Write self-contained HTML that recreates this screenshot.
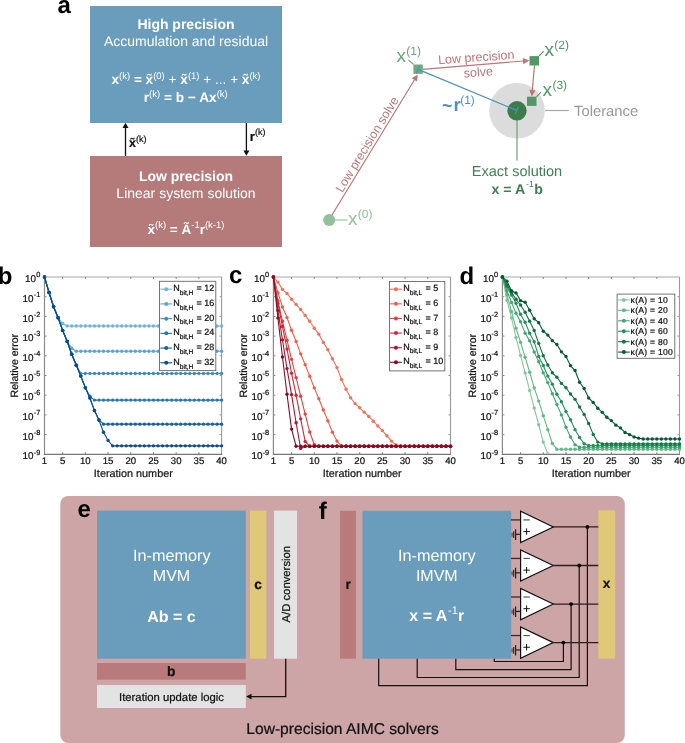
<!DOCTYPE html>
<html><head><meta charset="utf-8"><style>
html,body{margin:0;padding:0;background:#fff;}
svg{display:block;font-family:"Liberation Sans", sans-serif;will-change:transform;text-rendering:geometricPrecision;}
text[fill="#111"],text[fill="#1a1a1a"]{stroke:#111;stroke-width:0.22px;}
</style></head><body>
<svg width="685" height="743" viewBox="0 0 685 743">
<rect width="685" height="743" fill="#fff"/>
<rect x="90" y="6" width="192" height="117" fill="#6a9dbb"/>
<rect x="90" y="156" width="192" height="91" fill="#b57a7a"/>
<text x="186" y="29" font-size="14" fill="#fff" font-weight="bold" text-anchor="middle" >High precision</text>
<text x="186" y="46" font-size="14" fill="#fff" font-weight="normal" text-anchor="middle" >Accumulation and residual</text>
<text x="186" y="84" font-size="13.6" fill="#fff" font-weight="bold" text-anchor="middle">x<tspan font-size="9.5" font-weight="normal" dy="-5.5">(k)</tspan><tspan dy="5.5"> = x&#771;</tspan><tspan font-size="9.5" font-weight="normal" dy="-5.5">(0)</tspan><tspan dy="5.5"> <tspan font-weight="normal">+</tspan> x&#771;</tspan><tspan font-size="9.5" font-weight="normal" dy="-5.5">(1)</tspan><tspan dy="5.5"> <tspan font-weight="normal">+</tspan> <tspan font-weight="normal">...</tspan> <tspan font-weight="normal">+</tspan> x&#771;</tspan><tspan font-size="9.5" font-weight="normal" dy="-5.5">(k)</tspan></text>
<text x="185.7" y="102" font-size="13.7" fill="#fff" font-weight="bold" text-anchor="middle">r<tspan font-size="9.5" font-weight="normal" dy="-5.5">(k)</tspan><tspan dy="5.5"> = b &#8722; Ax</tspan><tspan font-size="9.5" font-weight="normal" dy="-5.5">(k)</tspan></text>
<text x="186" y="181" font-size="14" fill="#fff" font-weight="bold" text-anchor="middle" >Low precision</text>
<text x="186" y="198" font-size="14" fill="#fff" font-weight="normal" text-anchor="middle" >Linear system solution</text>
<text x="186" y="233.8" font-size="13.5" fill="#fff" font-weight="bold" text-anchor="middle">x&#771;<tspan font-size="9.5" font-weight="normal" dy="-5.5">(k)</tspan><tspan dy="5.5"> = A&#771;</tspan><tspan font-size="9.5" font-weight="normal" dy="-5.5">-1</tspan><tspan dy="5.5">r</tspan><tspan font-size="9.5" font-weight="normal" dy="-5.5">(k-1)</tspan></text>
<line x1="125.5" y1="156" x2="125.5" y2="127" stroke="#111" stroke-width="1.3"/>
<polygon points="122.5,128 128.5,128 125.5,122.7" fill="#111"/>
<line x1="246.4" y1="123" x2="246.4" y2="151" stroke="#111" stroke-width="1.3"/>
<polygon points="243.4,150.5 249.4,150.5 246.4,155.8" fill="#111"/>
<text x="129" y="146.5" font-size="12.5" font-weight="bold" fill="#111">x&#771;<tspan font-size="9" font-weight="normal" dy="-5">(k)</tspan></text>
<text x="249.8" y="140.5" font-size="13.2" font-weight="bold" fill="#111">r<tspan font-size="9" font-weight="normal" dy="-5.3">(k)</tspan></text>
<text x="57.5" y="13" font-size="24" fill="#000" font-weight="bold" text-anchor="start" >a</text>
<text x="-2.2" y="284" font-size="24" fill="#000" font-weight="bold" text-anchor="start" >b</text>
<text x="229" y="283" font-size="24" fill="#000" font-weight="bold" text-anchor="start" >c</text>
<text x="459.5" y="284.2" font-size="24" fill="#000" font-weight="bold" text-anchor="start" >d</text>
<circle cx="517" cy="110.7" r="27.8" fill="#dcdcdc"/>
<line x1="545" y1="110.5" x2="568.7" y2="110.5" stroke="#a8a8a8" stroke-width="1.2"/>
<text x="574" y="115.9" font-size="14.8" fill="#999" font-weight="normal" text-anchor="start" >Tolerance</text>
<line x1="517" y1="118" x2="517" y2="160.5" stroke="#5f9b6e" stroke-width="1.1"/>
<circle cx="517" cy="110.8" r="9.7" fill="#3b7b4c"/>
<text x="517" y="175.7" font-size="14.5" fill="#3f7f52" font-weight="normal" text-anchor="middle" >Exact solution</text>
<text x="517.2" y="193.7" font-size="14.2" font-weight="bold" fill="#3f7f52" text-anchor="middle">x = A<tspan font-size="8.6" font-weight="normal" dy="-6.3" dx="0.8">-1</tspan><tspan dy="6.3" dx="0.6">b</tspan></text>
<line x1="335" y1="220" x2="347.6" y2="220" stroke="#93c19d" stroke-width="1.1"/>
<circle cx="329.2" cy="220" r="6" fill="#93c19d"/>
<text x="348" y="224.8" font-size="19" fill="#93c19d">x<tspan font-size="12" dy="-7.2" dx="0.3">(0)</tspan></text>
<line x1="331.8" y1="215.2" x2="414.68" y2="79.55" stroke="#bd7577" stroke-width="1.2"/>
<polygon points="417.70,74.60 417.10,81.62 411.73,78.33" fill="#bd7577"/>
<line x1="422.8" y1="69.3" x2="523.52" y2="60.98" stroke="#bd7577" stroke-width="1.2"/>
<polygon points="529.30,60.50 523.28,64.16 522.76,57.88" fill="#bd7577"/>
<line x1="534.5" y1="65.3" x2="532.30" y2="90.62" stroke="#bd7577" stroke-width="1.2"/>
<polygon points="531.80,96.40 529.21,89.85 535.48,90.40" fill="#bd7577"/>
<line x1="418.1" y1="69.4" x2="516.8" y2="110.4" stroke="#5090bd" stroke-width="1.2"/>
<line x1="419.63" y1="65.71" x2="416.57" y2="73.09" stroke="#5090bd" stroke-width="1.2"/>
<line x1="518.33" y1="106.71" x2="515.27" y2="114.09" stroke="#5090bd" stroke-width="1.2"/>
<rect x="413.4" y="64.5" width="9.4" height="9.4" fill="#6aa679" fill-opacity="0.95"/>
<line x1="419.63" y1="65.71" x2="416.57" y2="73.09" stroke="#5090bd" stroke-width="1.2"/>
<line x1="418.1" y1="69.4" x2="423.64" y2="71.70" stroke="#5090bd" stroke-width="1.2"/>
<rect x="529.5" y="56.1" width="9.5" height="9.4" fill="#529766"/>
<rect x="527" y="96.7" width="9.5" height="9.2" fill="#529766"/>
<line x1="408.4" y1="59.9" x2="413.6" y2="64.5" stroke="#6aa679" stroke-width="1.1"/>
<line x1="539" y1="56" x2="543.8" y2="51.2" stroke="#529766" stroke-width="1.1"/>
<line x1="536.5" y1="96.8" x2="541" y2="92.1" stroke="#529766" stroke-width="1.1"/>
<text x="396.5" y="61.9" font-size="19" fill="#6aa679">x<tspan font-size="12" dy="-7.2" dx="0.3">(1)</tspan></text>
<text x="544.5" y="55.8" font-size="19" fill="#529766">x<tspan font-size="12" dy="-7.2" dx="0.3">(2)</tspan></text>
<text x="542.6" y="96.4" font-size="19" fill="#529766">x<tspan font-size="12" dy="-7.2" dx="0.3">(3)</tspan></text>
<g transform="translate(476.5,61.5) rotate(-4.2)"><text x="0" y="0" font-size="12.5" fill="#bd7577" text-anchor="middle">Low precision</text><text x="1" y="15" font-size="12.5" fill="#bd7577" text-anchor="middle">solve</text></g>
<g transform="translate(370.6,146.6) rotate(-58.6)"><text x="0" y="0" font-size="12.5" fill="#bd7577" text-anchor="middle">Low precision solve</text></g>
<text x="442" y="112.2" font-size="19.5" font-weight="bold" fill="#5090bd" textLength="10.4" lengthAdjust="spacingAndGlyphs">~</text>
<text x="453.4" y="110.6" font-size="18.6" font-weight="bold" fill="#5090bd">r</text>
<text x="460.2" y="103.8" font-size="11.9" fill="#5090bd">(1)</text>
<line x1="44.5" y1="277.0" x2="221.60" y2="277.0" stroke="#c4c4c4" stroke-width="1.5"/>
<line x1="221.60" y1="277.0" x2="221.60" y2="454.30" stroke="#999" stroke-width="1.1"/>
<line x1="44.5" y1="276.5" x2="44.5" y2="454.80" stroke="#8a8a8a" stroke-width="1.2"/>
<line x1="44.0" y1="454.30" x2="222.10" y2="454.30" stroke="#777" stroke-width="1.3"/>
<line x1="62.66" y1="454.30" x2="62.66" y2="452.30" stroke="#777" stroke-width="1"/>
<line x1="62.66" y1="277.0" x2="62.66" y2="279.0" stroke="#888" stroke-width="1"/>
<line x1="85.37" y1="454.30" x2="85.37" y2="452.30" stroke="#777" stroke-width="1"/>
<line x1="85.37" y1="277.0" x2="85.37" y2="279.0" stroke="#888" stroke-width="1"/>
<line x1="108.07" y1="454.30" x2="108.07" y2="452.30" stroke="#777" stroke-width="1"/>
<line x1="108.07" y1="277.0" x2="108.07" y2="279.0" stroke="#888" stroke-width="1"/>
<line x1="130.78" y1="454.30" x2="130.78" y2="452.30" stroke="#777" stroke-width="1"/>
<line x1="130.78" y1="277.0" x2="130.78" y2="279.0" stroke="#888" stroke-width="1"/>
<line x1="153.48" y1="454.30" x2="153.48" y2="452.30" stroke="#777" stroke-width="1"/>
<line x1="153.48" y1="277.0" x2="153.48" y2="279.0" stroke="#888" stroke-width="1"/>
<line x1="176.19" y1="454.30" x2="176.19" y2="452.30" stroke="#777" stroke-width="1"/>
<line x1="176.19" y1="277.0" x2="176.19" y2="279.0" stroke="#888" stroke-width="1"/>
<line x1="198.89" y1="454.30" x2="198.89" y2="452.30" stroke="#777" stroke-width="1"/>
<line x1="198.89" y1="277.0" x2="198.89" y2="279.0" stroke="#888" stroke-width="1"/>
<line x1="44.5" y1="296.70" x2="46.5" y2="296.70" stroke="#888" stroke-width="1"/>
<line x1="221.60" y1="296.70" x2="219.60" y2="296.70" stroke="#999" stroke-width="1"/>
<line x1="44.5" y1="316.40" x2="46.5" y2="316.40" stroke="#888" stroke-width="1"/>
<line x1="221.60" y1="316.40" x2="219.60" y2="316.40" stroke="#999" stroke-width="1"/>
<line x1="44.5" y1="336.10" x2="46.5" y2="336.10" stroke="#888" stroke-width="1"/>
<line x1="221.60" y1="336.10" x2="219.60" y2="336.10" stroke="#999" stroke-width="1"/>
<line x1="44.5" y1="355.80" x2="46.5" y2="355.80" stroke="#888" stroke-width="1"/>
<line x1="221.60" y1="355.80" x2="219.60" y2="355.80" stroke="#999" stroke-width="1"/>
<line x1="44.5" y1="375.50" x2="46.5" y2="375.50" stroke="#888" stroke-width="1"/>
<line x1="221.60" y1="375.50" x2="219.60" y2="375.50" stroke="#999" stroke-width="1"/>
<line x1="44.5" y1="395.20" x2="46.5" y2="395.20" stroke="#888" stroke-width="1"/>
<line x1="221.60" y1="395.20" x2="219.60" y2="395.20" stroke="#999" stroke-width="1"/>
<line x1="44.5" y1="414.90" x2="46.5" y2="414.90" stroke="#888" stroke-width="1"/>
<line x1="221.60" y1="414.90" x2="219.60" y2="414.90" stroke="#999" stroke-width="1"/>
<line x1="44.5" y1="434.60" x2="46.5" y2="434.60" stroke="#888" stroke-width="1"/>
<line x1="221.60" y1="434.60" x2="219.60" y2="434.60" stroke="#999" stroke-width="1"/>
<text x="44.50" y="464.4" font-size="9.6" fill="#111" font-weight="normal" text-anchor="middle" >1</text>
<text x="62.66" y="464.4" font-size="9.6" fill="#111" font-weight="normal" text-anchor="middle" >5</text>
<text x="85.37" y="464.4" font-size="9.6" fill="#111" font-weight="normal" text-anchor="middle" >10</text>
<text x="108.07" y="464.4" font-size="9.6" fill="#111" font-weight="normal" text-anchor="middle" >15</text>
<text x="130.78" y="464.4" font-size="9.6" fill="#111" font-weight="normal" text-anchor="middle" >20</text>
<text x="153.48" y="464.4" font-size="9.6" fill="#111" font-weight="normal" text-anchor="middle" >25</text>
<text x="176.19" y="464.4" font-size="9.6" fill="#111" font-weight="normal" text-anchor="middle" >30</text>
<text x="198.89" y="464.4" font-size="9.6" fill="#111" font-weight="normal" text-anchor="middle" >35</text>
<text x="221.60" y="464.4" font-size="9.6" fill="#111" font-weight="normal" text-anchor="middle" >40</text>
<text x="40.30" y="282.10" font-size="9.9" fill="#111" text-anchor="end">10<tspan font-size="7.4" dy="-4.9" dx="0.2">0</tspan></text>
<text x="40.30" y="301.80" font-size="9.9" fill="#111" text-anchor="end">10<tspan font-size="7.4" dy="-4.9" dx="0.2">-1</tspan></text>
<text x="40.30" y="321.50" font-size="9.9" fill="#111" text-anchor="end">10<tspan font-size="7.4" dy="-4.9" dx="0.2">-2</tspan></text>
<text x="40.30" y="341.20" font-size="9.9" fill="#111" text-anchor="end">10<tspan font-size="7.4" dy="-4.9" dx="0.2">-3</tspan></text>
<text x="40.30" y="360.90" font-size="9.9" fill="#111" text-anchor="end">10<tspan font-size="7.4" dy="-4.9" dx="0.2">-4</tspan></text>
<text x="40.30" y="380.60" font-size="9.9" fill="#111" text-anchor="end">10<tspan font-size="7.4" dy="-4.9" dx="0.2">-5</tspan></text>
<text x="40.30" y="400.30" font-size="9.9" fill="#111" text-anchor="end">10<tspan font-size="7.4" dy="-4.9" dx="0.2">-6</tspan></text>
<text x="40.30" y="420.00" font-size="9.9" fill="#111" text-anchor="end">10<tspan font-size="7.4" dy="-4.9" dx="0.2">-7</tspan></text>
<text x="40.30" y="439.70" font-size="9.9" fill="#111" text-anchor="end">10<tspan font-size="7.4" dy="-4.9" dx="0.2">-8</tspan></text>
<text x="40.30" y="459.40" font-size="9.9" fill="#111" text-anchor="end">10<tspan font-size="7.4" dy="-4.9" dx="0.2">-9</tspan></text>
<text x="133.35" y="477.3" font-size="10.85" fill="#1a1a1a" font-weight="normal" text-anchor="middle" >Iteration number</text>
<text x="0" y="0" font-size="10.6" fill="#111" text-anchor="middle" transform="translate(18.10,365.7) rotate(-90)">Relative error</text>
<clipPath id="clip44"><rect x="41.5" y="274.0" width="183.10" height="179.50"/></clipPath>
<g clip-path="url(#clip44)">
<polyline points="44.50,277.00 49.04,292.56 53.58,306.75 58.12,317.78 62.66,323.49 67.20,326.05 71.75,326.05 76.29,326.05 80.83,326.05 85.37,326.05 89.91,326.05 94.45,326.05 98.99,326.05 103.53,326.05 108.07,326.05 112.62,326.05 117.16,326.05 121.70,326.05 126.24,326.05 130.78,326.05 135.32,326.05 139.86,326.05 144.40,326.05 148.94,326.05 153.48,326.05 158.03,326.05 162.57,326.05 167.11,326.05 171.65,326.05 176.19,326.05 180.73,326.05 185.27,326.05 189.81,326.05 194.35,326.05 198.89,326.05 203.44,326.05 207.98,326.05 212.52,326.05 217.06,326.05 221.60,326.05" fill="none" stroke="#6db3dc" stroke-width="1.1" stroke-linejoin="round"/>
<circle cx="44.50" cy="277.00" r="1.7" fill="#6db3dc"/>
<circle cx="49.04" cy="292.56" r="1.7" fill="#6db3dc"/>
<circle cx="53.58" cy="306.75" r="1.7" fill="#6db3dc"/>
<circle cx="58.12" cy="317.78" r="1.7" fill="#6db3dc"/>
<circle cx="62.66" cy="323.49" r="1.7" fill="#6db3dc"/>
<circle cx="67.20" cy="326.05" r="1.7" fill="#6db3dc"/>
<circle cx="71.75" cy="326.05" r="1.7" fill="#6db3dc"/>
<circle cx="76.29" cy="326.05" r="1.7" fill="#6db3dc"/>
<circle cx="80.83" cy="326.05" r="1.7" fill="#6db3dc"/>
<circle cx="85.37" cy="326.05" r="1.7" fill="#6db3dc"/>
<circle cx="89.91" cy="326.05" r="1.7" fill="#6db3dc"/>
<circle cx="94.45" cy="326.05" r="1.7" fill="#6db3dc"/>
<circle cx="98.99" cy="326.05" r="1.7" fill="#6db3dc"/>
<circle cx="103.53" cy="326.05" r="1.7" fill="#6db3dc"/>
<circle cx="108.07" cy="326.05" r="1.7" fill="#6db3dc"/>
<circle cx="112.62" cy="326.05" r="1.7" fill="#6db3dc"/>
<circle cx="117.16" cy="326.05" r="1.7" fill="#6db3dc"/>
<circle cx="121.70" cy="326.05" r="1.7" fill="#6db3dc"/>
<circle cx="126.24" cy="326.05" r="1.7" fill="#6db3dc"/>
<circle cx="130.78" cy="326.05" r="1.7" fill="#6db3dc"/>
<circle cx="135.32" cy="326.05" r="1.7" fill="#6db3dc"/>
<circle cx="139.86" cy="326.05" r="1.7" fill="#6db3dc"/>
<circle cx="144.40" cy="326.05" r="1.7" fill="#6db3dc"/>
<circle cx="148.94" cy="326.05" r="1.7" fill="#6db3dc"/>
<circle cx="153.48" cy="326.05" r="1.7" fill="#6db3dc"/>
<circle cx="158.03" cy="326.05" r="1.7" fill="#6db3dc"/>
<circle cx="162.57" cy="326.05" r="1.7" fill="#6db3dc"/>
<circle cx="167.11" cy="326.05" r="1.7" fill="#6db3dc"/>
<circle cx="171.65" cy="326.05" r="1.7" fill="#6db3dc"/>
<circle cx="176.19" cy="326.05" r="1.7" fill="#6db3dc"/>
<circle cx="180.73" cy="326.05" r="1.7" fill="#6db3dc"/>
<circle cx="185.27" cy="326.05" r="1.7" fill="#6db3dc"/>
<circle cx="189.81" cy="326.05" r="1.7" fill="#6db3dc"/>
<circle cx="194.35" cy="326.05" r="1.7" fill="#6db3dc"/>
<circle cx="198.89" cy="326.05" r="1.7" fill="#6db3dc"/>
<circle cx="203.44" cy="326.05" r="1.7" fill="#6db3dc"/>
<circle cx="207.98" cy="326.05" r="1.7" fill="#6db3dc"/>
<circle cx="212.52" cy="326.05" r="1.7" fill="#6db3dc"/>
<circle cx="217.06" cy="326.05" r="1.7" fill="#6db3dc"/>
<circle cx="221.60" cy="326.05" r="1.7" fill="#6db3dc"/>
<polyline points="44.50,277.00 49.04,292.56 53.58,306.75 58.12,317.78 62.66,330.39 67.20,341.42 71.75,348.31 76.29,351.27 80.83,351.27 85.37,351.27 89.91,351.27 94.45,351.27 98.99,351.27 103.53,351.27 108.07,351.27 112.62,351.27 117.16,351.27 121.70,351.27 126.24,351.27 130.78,351.27 135.32,351.27 139.86,351.27 144.40,351.27 148.94,351.27 153.48,351.27 158.03,351.27 162.57,351.27 167.11,351.27 171.65,351.27 176.19,351.27 180.73,351.27 185.27,351.27 189.81,351.27 194.35,351.27 198.89,351.27 203.44,351.27 207.98,351.27 212.52,351.27 217.06,351.27 221.60,351.27" fill="none" stroke="#58a6d8" stroke-width="1.1" stroke-linejoin="round"/>
<circle cx="44.50" cy="277.00" r="1.7" fill="#58a6d8"/>
<circle cx="49.04" cy="292.56" r="1.7" fill="#58a6d8"/>
<circle cx="53.58" cy="306.75" r="1.7" fill="#58a6d8"/>
<circle cx="58.12" cy="317.78" r="1.7" fill="#58a6d8"/>
<circle cx="62.66" cy="330.39" r="1.7" fill="#58a6d8"/>
<circle cx="67.20" cy="341.42" r="1.7" fill="#58a6d8"/>
<circle cx="71.75" cy="348.31" r="1.7" fill="#58a6d8"/>
<circle cx="76.29" cy="351.27" r="1.7" fill="#58a6d8"/>
<circle cx="80.83" cy="351.27" r="1.7" fill="#58a6d8"/>
<circle cx="85.37" cy="351.27" r="1.7" fill="#58a6d8"/>
<circle cx="89.91" cy="351.27" r="1.7" fill="#58a6d8"/>
<circle cx="94.45" cy="351.27" r="1.7" fill="#58a6d8"/>
<circle cx="98.99" cy="351.27" r="1.7" fill="#58a6d8"/>
<circle cx="103.53" cy="351.27" r="1.7" fill="#58a6d8"/>
<circle cx="108.07" cy="351.27" r="1.7" fill="#58a6d8"/>
<circle cx="112.62" cy="351.27" r="1.7" fill="#58a6d8"/>
<circle cx="117.16" cy="351.27" r="1.7" fill="#58a6d8"/>
<circle cx="121.70" cy="351.27" r="1.7" fill="#58a6d8"/>
<circle cx="126.24" cy="351.27" r="1.7" fill="#58a6d8"/>
<circle cx="130.78" cy="351.27" r="1.7" fill="#58a6d8"/>
<circle cx="135.32" cy="351.27" r="1.7" fill="#58a6d8"/>
<circle cx="139.86" cy="351.27" r="1.7" fill="#58a6d8"/>
<circle cx="144.40" cy="351.27" r="1.7" fill="#58a6d8"/>
<circle cx="148.94" cy="351.27" r="1.7" fill="#58a6d8"/>
<circle cx="153.48" cy="351.27" r="1.7" fill="#58a6d8"/>
<circle cx="158.03" cy="351.27" r="1.7" fill="#58a6d8"/>
<circle cx="162.57" cy="351.27" r="1.7" fill="#58a6d8"/>
<circle cx="167.11" cy="351.27" r="1.7" fill="#58a6d8"/>
<circle cx="171.65" cy="351.27" r="1.7" fill="#58a6d8"/>
<circle cx="176.19" cy="351.27" r="1.7" fill="#58a6d8"/>
<circle cx="180.73" cy="351.27" r="1.7" fill="#58a6d8"/>
<circle cx="185.27" cy="351.27" r="1.7" fill="#58a6d8"/>
<circle cx="189.81" cy="351.27" r="1.7" fill="#58a6d8"/>
<circle cx="194.35" cy="351.27" r="1.7" fill="#58a6d8"/>
<circle cx="198.89" cy="351.27" r="1.7" fill="#58a6d8"/>
<circle cx="203.44" cy="351.27" r="1.7" fill="#58a6d8"/>
<circle cx="207.98" cy="351.27" r="1.7" fill="#58a6d8"/>
<circle cx="212.52" cy="351.27" r="1.7" fill="#58a6d8"/>
<circle cx="217.06" cy="351.27" r="1.7" fill="#58a6d8"/>
<circle cx="221.60" cy="351.27" r="1.7" fill="#58a6d8"/>
<polyline points="44.50,277.00 49.04,292.56 53.58,306.75 58.12,317.78 62.66,330.39 67.20,341.42 71.75,354.22 76.29,365.26 80.83,373.53 85.37,373.53 89.91,373.53 94.45,373.53 98.99,373.53 103.53,373.53 108.07,373.53 112.62,373.53 117.16,373.53 121.70,373.53 126.24,373.53 130.78,373.53 135.32,373.53 139.86,373.53 144.40,373.53 148.94,373.53 153.48,373.53 158.03,373.53 162.57,373.53 167.11,373.53 171.65,373.53 176.19,373.53 180.73,373.53 185.27,373.53 189.81,373.53 194.35,373.53 198.89,373.53 203.44,373.53 207.98,373.53 212.52,373.53 217.06,373.53 221.60,373.53" fill="none" stroke="#3a8dc9" stroke-width="1.1" stroke-linejoin="round"/>
<circle cx="44.50" cy="277.00" r="1.7" fill="#3a8dc9"/>
<circle cx="49.04" cy="292.56" r="1.7" fill="#3a8dc9"/>
<circle cx="53.58" cy="306.75" r="1.7" fill="#3a8dc9"/>
<circle cx="58.12" cy="317.78" r="1.7" fill="#3a8dc9"/>
<circle cx="62.66" cy="330.39" r="1.7" fill="#3a8dc9"/>
<circle cx="67.20" cy="341.42" r="1.7" fill="#3a8dc9"/>
<circle cx="71.75" cy="354.22" r="1.7" fill="#3a8dc9"/>
<circle cx="76.29" cy="365.26" r="1.7" fill="#3a8dc9"/>
<circle cx="80.83" cy="373.53" r="1.7" fill="#3a8dc9"/>
<circle cx="85.37" cy="373.53" r="1.7" fill="#3a8dc9"/>
<circle cx="89.91" cy="373.53" r="1.7" fill="#3a8dc9"/>
<circle cx="94.45" cy="373.53" r="1.7" fill="#3a8dc9"/>
<circle cx="98.99" cy="373.53" r="1.7" fill="#3a8dc9"/>
<circle cx="103.53" cy="373.53" r="1.7" fill="#3a8dc9"/>
<circle cx="108.07" cy="373.53" r="1.7" fill="#3a8dc9"/>
<circle cx="112.62" cy="373.53" r="1.7" fill="#3a8dc9"/>
<circle cx="117.16" cy="373.53" r="1.7" fill="#3a8dc9"/>
<circle cx="121.70" cy="373.53" r="1.7" fill="#3a8dc9"/>
<circle cx="126.24" cy="373.53" r="1.7" fill="#3a8dc9"/>
<circle cx="130.78" cy="373.53" r="1.7" fill="#3a8dc9"/>
<circle cx="135.32" cy="373.53" r="1.7" fill="#3a8dc9"/>
<circle cx="139.86" cy="373.53" r="1.7" fill="#3a8dc9"/>
<circle cx="144.40" cy="373.53" r="1.7" fill="#3a8dc9"/>
<circle cx="148.94" cy="373.53" r="1.7" fill="#3a8dc9"/>
<circle cx="153.48" cy="373.53" r="1.7" fill="#3a8dc9"/>
<circle cx="158.03" cy="373.53" r="1.7" fill="#3a8dc9"/>
<circle cx="162.57" cy="373.53" r="1.7" fill="#3a8dc9"/>
<circle cx="167.11" cy="373.53" r="1.7" fill="#3a8dc9"/>
<circle cx="171.65" cy="373.53" r="1.7" fill="#3a8dc9"/>
<circle cx="176.19" cy="373.53" r="1.7" fill="#3a8dc9"/>
<circle cx="180.73" cy="373.53" r="1.7" fill="#3a8dc9"/>
<circle cx="185.27" cy="373.53" r="1.7" fill="#3a8dc9"/>
<circle cx="189.81" cy="373.53" r="1.7" fill="#3a8dc9"/>
<circle cx="194.35" cy="373.53" r="1.7" fill="#3a8dc9"/>
<circle cx="198.89" cy="373.53" r="1.7" fill="#3a8dc9"/>
<circle cx="203.44" cy="373.53" r="1.7" fill="#3a8dc9"/>
<circle cx="207.98" cy="373.53" r="1.7" fill="#3a8dc9"/>
<circle cx="212.52" cy="373.53" r="1.7" fill="#3a8dc9"/>
<circle cx="217.06" cy="373.53" r="1.7" fill="#3a8dc9"/>
<circle cx="221.60" cy="373.53" r="1.7" fill="#3a8dc9"/>
<polyline points="44.50,277.00 49.04,292.56 53.58,306.75 58.12,317.78 62.66,330.39 67.20,341.42 71.75,354.22 76.29,365.26 80.83,376.09 85.37,387.71 89.91,396.19 94.45,400.12 98.99,400.12 103.53,400.12 108.07,400.12 112.62,400.12 117.16,400.12 121.70,400.12 126.24,400.12 130.78,400.12 135.32,400.12 139.86,400.12 144.40,400.12 148.94,400.12 153.48,400.12 158.03,400.12 162.57,400.12 167.11,400.12 171.65,400.12 176.19,400.12 180.73,400.12 185.27,400.12 189.81,400.12 194.35,400.12 198.89,400.12 203.44,400.12 207.98,400.12 212.52,400.12 217.06,400.12 221.60,400.12" fill="none" stroke="#2476b8" stroke-width="1.1" stroke-linejoin="round"/>
<circle cx="44.50" cy="277.00" r="1.7" fill="#2476b8"/>
<circle cx="49.04" cy="292.56" r="1.7" fill="#2476b8"/>
<circle cx="53.58" cy="306.75" r="1.7" fill="#2476b8"/>
<circle cx="58.12" cy="317.78" r="1.7" fill="#2476b8"/>
<circle cx="62.66" cy="330.39" r="1.7" fill="#2476b8"/>
<circle cx="67.20" cy="341.42" r="1.7" fill="#2476b8"/>
<circle cx="71.75" cy="354.22" r="1.7" fill="#2476b8"/>
<circle cx="76.29" cy="365.26" r="1.7" fill="#2476b8"/>
<circle cx="80.83" cy="376.09" r="1.7" fill="#2476b8"/>
<circle cx="85.37" cy="387.71" r="1.7" fill="#2476b8"/>
<circle cx="89.91" cy="396.19" r="1.7" fill="#2476b8"/>
<circle cx="94.45" cy="400.12" r="1.7" fill="#2476b8"/>
<circle cx="98.99" cy="400.12" r="1.7" fill="#2476b8"/>
<circle cx="103.53" cy="400.12" r="1.7" fill="#2476b8"/>
<circle cx="108.07" cy="400.12" r="1.7" fill="#2476b8"/>
<circle cx="112.62" cy="400.12" r="1.7" fill="#2476b8"/>
<circle cx="117.16" cy="400.12" r="1.7" fill="#2476b8"/>
<circle cx="121.70" cy="400.12" r="1.7" fill="#2476b8"/>
<circle cx="126.24" cy="400.12" r="1.7" fill="#2476b8"/>
<circle cx="130.78" cy="400.12" r="1.7" fill="#2476b8"/>
<circle cx="135.32" cy="400.12" r="1.7" fill="#2476b8"/>
<circle cx="139.86" cy="400.12" r="1.7" fill="#2476b8"/>
<circle cx="144.40" cy="400.12" r="1.7" fill="#2476b8"/>
<circle cx="148.94" cy="400.12" r="1.7" fill="#2476b8"/>
<circle cx="153.48" cy="400.12" r="1.7" fill="#2476b8"/>
<circle cx="158.03" cy="400.12" r="1.7" fill="#2476b8"/>
<circle cx="162.57" cy="400.12" r="1.7" fill="#2476b8"/>
<circle cx="167.11" cy="400.12" r="1.7" fill="#2476b8"/>
<circle cx="171.65" cy="400.12" r="1.7" fill="#2476b8"/>
<circle cx="176.19" cy="400.12" r="1.7" fill="#2476b8"/>
<circle cx="180.73" cy="400.12" r="1.7" fill="#2476b8"/>
<circle cx="185.27" cy="400.12" r="1.7" fill="#2476b8"/>
<circle cx="189.81" cy="400.12" r="1.7" fill="#2476b8"/>
<circle cx="194.35" cy="400.12" r="1.7" fill="#2476b8"/>
<circle cx="198.89" cy="400.12" r="1.7" fill="#2476b8"/>
<circle cx="203.44" cy="400.12" r="1.7" fill="#2476b8"/>
<circle cx="207.98" cy="400.12" r="1.7" fill="#2476b8"/>
<circle cx="212.52" cy="400.12" r="1.7" fill="#2476b8"/>
<circle cx="217.06" cy="400.12" r="1.7" fill="#2476b8"/>
<circle cx="221.60" cy="400.12" r="1.7" fill="#2476b8"/>
<polyline points="44.50,277.00 49.04,292.56 53.58,306.75 58.12,317.78 62.66,330.39 67.20,341.42 71.75,354.22 76.29,365.26 80.83,376.09 85.37,387.71 89.91,397.96 94.45,410.57 98.99,419.82 103.53,424.16 108.07,424.16 112.62,424.16 117.16,424.16 121.70,424.16 126.24,424.16 130.78,424.16 135.32,424.16 139.86,424.16 144.40,424.16 148.94,424.16 153.48,424.16 158.03,424.16 162.57,424.16 167.11,424.16 171.65,424.16 176.19,424.16 180.73,424.16 185.27,424.16 189.81,424.16 194.35,424.16 198.89,424.16 203.44,424.16 207.98,424.16 212.52,424.16 217.06,424.16 221.60,424.16" fill="none" stroke="#1461a8" stroke-width="1.1" stroke-linejoin="round"/>
<circle cx="44.50" cy="277.00" r="1.7" fill="#1461a8"/>
<circle cx="49.04" cy="292.56" r="1.7" fill="#1461a8"/>
<circle cx="53.58" cy="306.75" r="1.7" fill="#1461a8"/>
<circle cx="58.12" cy="317.78" r="1.7" fill="#1461a8"/>
<circle cx="62.66" cy="330.39" r="1.7" fill="#1461a8"/>
<circle cx="67.20" cy="341.42" r="1.7" fill="#1461a8"/>
<circle cx="71.75" cy="354.22" r="1.7" fill="#1461a8"/>
<circle cx="76.29" cy="365.26" r="1.7" fill="#1461a8"/>
<circle cx="80.83" cy="376.09" r="1.7" fill="#1461a8"/>
<circle cx="85.37" cy="387.71" r="1.7" fill="#1461a8"/>
<circle cx="89.91" cy="397.96" r="1.7" fill="#1461a8"/>
<circle cx="94.45" cy="410.57" r="1.7" fill="#1461a8"/>
<circle cx="98.99" cy="419.82" r="1.7" fill="#1461a8"/>
<circle cx="103.53" cy="424.16" r="1.7" fill="#1461a8"/>
<circle cx="108.07" cy="424.16" r="1.7" fill="#1461a8"/>
<circle cx="112.62" cy="424.16" r="1.7" fill="#1461a8"/>
<circle cx="117.16" cy="424.16" r="1.7" fill="#1461a8"/>
<circle cx="121.70" cy="424.16" r="1.7" fill="#1461a8"/>
<circle cx="126.24" cy="424.16" r="1.7" fill="#1461a8"/>
<circle cx="130.78" cy="424.16" r="1.7" fill="#1461a8"/>
<circle cx="135.32" cy="424.16" r="1.7" fill="#1461a8"/>
<circle cx="139.86" cy="424.16" r="1.7" fill="#1461a8"/>
<circle cx="144.40" cy="424.16" r="1.7" fill="#1461a8"/>
<circle cx="148.94" cy="424.16" r="1.7" fill="#1461a8"/>
<circle cx="153.48" cy="424.16" r="1.7" fill="#1461a8"/>
<circle cx="158.03" cy="424.16" r="1.7" fill="#1461a8"/>
<circle cx="162.57" cy="424.16" r="1.7" fill="#1461a8"/>
<circle cx="167.11" cy="424.16" r="1.7" fill="#1461a8"/>
<circle cx="171.65" cy="424.16" r="1.7" fill="#1461a8"/>
<circle cx="176.19" cy="424.16" r="1.7" fill="#1461a8"/>
<circle cx="180.73" cy="424.16" r="1.7" fill="#1461a8"/>
<circle cx="185.27" cy="424.16" r="1.7" fill="#1461a8"/>
<circle cx="189.81" cy="424.16" r="1.7" fill="#1461a8"/>
<circle cx="194.35" cy="424.16" r="1.7" fill="#1461a8"/>
<circle cx="198.89" cy="424.16" r="1.7" fill="#1461a8"/>
<circle cx="203.44" cy="424.16" r="1.7" fill="#1461a8"/>
<circle cx="207.98" cy="424.16" r="1.7" fill="#1461a8"/>
<circle cx="212.52" cy="424.16" r="1.7" fill="#1461a8"/>
<circle cx="217.06" cy="424.16" r="1.7" fill="#1461a8"/>
<circle cx="221.60" cy="424.16" r="1.7" fill="#1461a8"/>
<polyline points="44.50,277.00 49.04,292.56 53.58,306.75 58.12,317.78 62.66,330.39 67.20,341.42 71.75,354.22 76.29,365.26 80.83,376.09 85.37,387.71 89.91,397.96 94.45,410.57 98.99,420.22 103.53,432.24 108.07,440.51 112.62,445.83 117.16,445.83 121.70,445.83 126.24,445.83 130.78,445.83 135.32,445.83 139.86,445.83 144.40,445.83 148.94,445.83 153.48,445.83 158.03,445.83 162.57,445.83 167.11,445.83 171.65,445.83 176.19,445.83 180.73,445.83 185.27,445.83 189.81,445.83 194.35,445.83 198.89,445.83 203.44,445.83 207.98,445.83 212.52,445.83 217.06,445.83 221.60,445.83" fill="none" stroke="#0d4b8e" stroke-width="1.1" stroke-linejoin="round"/>
<circle cx="44.50" cy="277.00" r="1.7" fill="#0d4b8e"/>
<circle cx="49.04" cy="292.56" r="1.7" fill="#0d4b8e"/>
<circle cx="53.58" cy="306.75" r="1.7" fill="#0d4b8e"/>
<circle cx="58.12" cy="317.78" r="1.7" fill="#0d4b8e"/>
<circle cx="62.66" cy="330.39" r="1.7" fill="#0d4b8e"/>
<circle cx="67.20" cy="341.42" r="1.7" fill="#0d4b8e"/>
<circle cx="71.75" cy="354.22" r="1.7" fill="#0d4b8e"/>
<circle cx="76.29" cy="365.26" r="1.7" fill="#0d4b8e"/>
<circle cx="80.83" cy="376.09" r="1.7" fill="#0d4b8e"/>
<circle cx="85.37" cy="387.71" r="1.7" fill="#0d4b8e"/>
<circle cx="89.91" cy="397.96" r="1.7" fill="#0d4b8e"/>
<circle cx="94.45" cy="410.57" r="1.7" fill="#0d4b8e"/>
<circle cx="98.99" cy="420.22" r="1.7" fill="#0d4b8e"/>
<circle cx="103.53" cy="432.24" r="1.7" fill="#0d4b8e"/>
<circle cx="108.07" cy="440.51" r="1.7" fill="#0d4b8e"/>
<circle cx="112.62" cy="445.83" r="1.7" fill="#0d4b8e"/>
<circle cx="117.16" cy="445.83" r="1.7" fill="#0d4b8e"/>
<circle cx="121.70" cy="445.83" r="1.7" fill="#0d4b8e"/>
<circle cx="126.24" cy="445.83" r="1.7" fill="#0d4b8e"/>
<circle cx="130.78" cy="445.83" r="1.7" fill="#0d4b8e"/>
<circle cx="135.32" cy="445.83" r="1.7" fill="#0d4b8e"/>
<circle cx="139.86" cy="445.83" r="1.7" fill="#0d4b8e"/>
<circle cx="144.40" cy="445.83" r="1.7" fill="#0d4b8e"/>
<circle cx="148.94" cy="445.83" r="1.7" fill="#0d4b8e"/>
<circle cx="153.48" cy="445.83" r="1.7" fill="#0d4b8e"/>
<circle cx="158.03" cy="445.83" r="1.7" fill="#0d4b8e"/>
<circle cx="162.57" cy="445.83" r="1.7" fill="#0d4b8e"/>
<circle cx="167.11" cy="445.83" r="1.7" fill="#0d4b8e"/>
<circle cx="171.65" cy="445.83" r="1.7" fill="#0d4b8e"/>
<circle cx="176.19" cy="445.83" r="1.7" fill="#0d4b8e"/>
<circle cx="180.73" cy="445.83" r="1.7" fill="#0d4b8e"/>
<circle cx="185.27" cy="445.83" r="1.7" fill="#0d4b8e"/>
<circle cx="189.81" cy="445.83" r="1.7" fill="#0d4b8e"/>
<circle cx="194.35" cy="445.83" r="1.7" fill="#0d4b8e"/>
<circle cx="198.89" cy="445.83" r="1.7" fill="#0d4b8e"/>
<circle cx="203.44" cy="445.83" r="1.7" fill="#0d4b8e"/>
<circle cx="207.98" cy="445.83" r="1.7" fill="#0d4b8e"/>
<circle cx="212.52" cy="445.83" r="1.7" fill="#0d4b8e"/>
<circle cx="217.06" cy="445.83" r="1.7" fill="#0d4b8e"/>
<circle cx="221.60" cy="445.83" r="1.7" fill="#0d4b8e"/>
</g>
<rect x="159.5" y="281.3" width="56.3" height="89.3" fill="#fff" stroke="#666" stroke-width="0.9"/>
<line x1="160.4" y1="289.20" x2="172.1" y2="289.20" stroke="#6db3dc" stroke-width="1.1"/>
<circle cx="166.25" cy="289.20" r="2.0" fill="#6db3dc"/>
<text x="173.2" y="291.30" font-size="9" fill="#111">N<tspan font-size="6.7" dy="3.6">bit,H</tspan><tspan dy="-3.6" dx="0.6"> = 12</tspan></text>
<line x1="160.4" y1="303.92" x2="172.1" y2="303.92" stroke="#58a6d8" stroke-width="1.1"/>
<circle cx="166.25" cy="303.92" r="2.0" fill="#58a6d8"/>
<text x="173.2" y="306.02" font-size="9" fill="#111">N<tspan font-size="6.7" dy="3.6">bit,H</tspan><tspan dy="-3.6" dx="0.6"> = 16</tspan></text>
<line x1="160.4" y1="318.64" x2="172.1" y2="318.64" stroke="#3a8dc9" stroke-width="1.1"/>
<circle cx="166.25" cy="318.64" r="2.0" fill="#3a8dc9"/>
<text x="173.2" y="320.74" font-size="9" fill="#111">N<tspan font-size="6.7" dy="3.6">bit,H</tspan><tspan dy="-3.6" dx="0.6"> = 20</tspan></text>
<line x1="160.4" y1="333.36" x2="172.1" y2="333.36" stroke="#2476b8" stroke-width="1.1"/>
<circle cx="166.25" cy="333.36" r="2.0" fill="#2476b8"/>
<text x="173.2" y="335.46" font-size="9" fill="#111">N<tspan font-size="6.7" dy="3.6">bit,H</tspan><tspan dy="-3.6" dx="0.6"> = 24</tspan></text>
<line x1="160.4" y1="348.08" x2="172.1" y2="348.08" stroke="#1461a8" stroke-width="1.1"/>
<circle cx="166.25" cy="348.08" r="2.0" fill="#1461a8"/>
<text x="173.2" y="350.18" font-size="9" fill="#111">N<tspan font-size="6.7" dy="3.6">bit,H</tspan><tspan dy="-3.6" dx="0.6"> = 28</tspan></text>
<line x1="160.4" y1="362.80" x2="172.1" y2="362.80" stroke="#0d4b8e" stroke-width="1.1"/>
<circle cx="166.25" cy="362.80" r="2.0" fill="#0d4b8e"/>
<text x="173.2" y="364.90" font-size="9" fill="#111">N<tspan font-size="6.7" dy="3.6">bit,H</tspan><tspan dy="-3.6" dx="0.6"> = 32</tspan></text>
<line x1="273.4" y1="277.0" x2="450.50" y2="277.0" stroke="#c4c4c4" stroke-width="1.5"/>
<line x1="450.50" y1="277.0" x2="450.50" y2="454.30" stroke="#999" stroke-width="1.1"/>
<line x1="273.4" y1="276.5" x2="273.4" y2="454.80" stroke="#8a8a8a" stroke-width="1.2"/>
<line x1="272.9" y1="454.30" x2="451.00" y2="454.30" stroke="#777" stroke-width="1.3"/>
<line x1="291.56" y1="454.30" x2="291.56" y2="452.30" stroke="#777" stroke-width="1"/>
<line x1="291.56" y1="277.0" x2="291.56" y2="279.0" stroke="#888" stroke-width="1"/>
<line x1="314.27" y1="454.30" x2="314.27" y2="452.30" stroke="#777" stroke-width="1"/>
<line x1="314.27" y1="277.0" x2="314.27" y2="279.0" stroke="#888" stroke-width="1"/>
<line x1="336.97" y1="454.30" x2="336.97" y2="452.30" stroke="#777" stroke-width="1"/>
<line x1="336.97" y1="277.0" x2="336.97" y2="279.0" stroke="#888" stroke-width="1"/>
<line x1="359.68" y1="454.30" x2="359.68" y2="452.30" stroke="#777" stroke-width="1"/>
<line x1="359.68" y1="277.0" x2="359.68" y2="279.0" stroke="#888" stroke-width="1"/>
<line x1="382.38" y1="454.30" x2="382.38" y2="452.30" stroke="#777" stroke-width="1"/>
<line x1="382.38" y1="277.0" x2="382.38" y2="279.0" stroke="#888" stroke-width="1"/>
<line x1="405.09" y1="454.30" x2="405.09" y2="452.30" stroke="#777" stroke-width="1"/>
<line x1="405.09" y1="277.0" x2="405.09" y2="279.0" stroke="#888" stroke-width="1"/>
<line x1="427.79" y1="454.30" x2="427.79" y2="452.30" stroke="#777" stroke-width="1"/>
<line x1="427.79" y1="277.0" x2="427.79" y2="279.0" stroke="#888" stroke-width="1"/>
<line x1="273.4" y1="296.70" x2="275.4" y2="296.70" stroke="#888" stroke-width="1"/>
<line x1="450.50" y1="296.70" x2="448.50" y2="296.70" stroke="#999" stroke-width="1"/>
<line x1="273.4" y1="316.40" x2="275.4" y2="316.40" stroke="#888" stroke-width="1"/>
<line x1="450.50" y1="316.40" x2="448.50" y2="316.40" stroke="#999" stroke-width="1"/>
<line x1="273.4" y1="336.10" x2="275.4" y2="336.10" stroke="#888" stroke-width="1"/>
<line x1="450.50" y1="336.10" x2="448.50" y2="336.10" stroke="#999" stroke-width="1"/>
<line x1="273.4" y1="355.80" x2="275.4" y2="355.80" stroke="#888" stroke-width="1"/>
<line x1="450.50" y1="355.80" x2="448.50" y2="355.80" stroke="#999" stroke-width="1"/>
<line x1="273.4" y1="375.50" x2="275.4" y2="375.50" stroke="#888" stroke-width="1"/>
<line x1="450.50" y1="375.50" x2="448.50" y2="375.50" stroke="#999" stroke-width="1"/>
<line x1="273.4" y1="395.20" x2="275.4" y2="395.20" stroke="#888" stroke-width="1"/>
<line x1="450.50" y1="395.20" x2="448.50" y2="395.20" stroke="#999" stroke-width="1"/>
<line x1="273.4" y1="414.90" x2="275.4" y2="414.90" stroke="#888" stroke-width="1"/>
<line x1="450.50" y1="414.90" x2="448.50" y2="414.90" stroke="#999" stroke-width="1"/>
<line x1="273.4" y1="434.60" x2="275.4" y2="434.60" stroke="#888" stroke-width="1"/>
<line x1="450.50" y1="434.60" x2="448.50" y2="434.60" stroke="#999" stroke-width="1"/>
<text x="273.40" y="464.4" font-size="9.6" fill="#111" font-weight="normal" text-anchor="middle" >1</text>
<text x="291.56" y="464.4" font-size="9.6" fill="#111" font-weight="normal" text-anchor="middle" >5</text>
<text x="314.27" y="464.4" font-size="9.6" fill="#111" font-weight="normal" text-anchor="middle" >10</text>
<text x="336.97" y="464.4" font-size="9.6" fill="#111" font-weight="normal" text-anchor="middle" >15</text>
<text x="359.68" y="464.4" font-size="9.6" fill="#111" font-weight="normal" text-anchor="middle" >20</text>
<text x="382.38" y="464.4" font-size="9.6" fill="#111" font-weight="normal" text-anchor="middle" >25</text>
<text x="405.09" y="464.4" font-size="9.6" fill="#111" font-weight="normal" text-anchor="middle" >30</text>
<text x="427.79" y="464.4" font-size="9.6" fill="#111" font-weight="normal" text-anchor="middle" >35</text>
<text x="450.50" y="464.4" font-size="9.6" fill="#111" font-weight="normal" text-anchor="middle" >40</text>
<text x="269.20" y="282.10" font-size="9.9" fill="#111" text-anchor="end">10<tspan font-size="7.4" dy="-4.9" dx="0.2">0</tspan></text>
<text x="269.20" y="301.80" font-size="9.9" fill="#111" text-anchor="end">10<tspan font-size="7.4" dy="-4.9" dx="0.2">-1</tspan></text>
<text x="269.20" y="321.50" font-size="9.9" fill="#111" text-anchor="end">10<tspan font-size="7.4" dy="-4.9" dx="0.2">-2</tspan></text>
<text x="269.20" y="341.20" font-size="9.9" fill="#111" text-anchor="end">10<tspan font-size="7.4" dy="-4.9" dx="0.2">-3</tspan></text>
<text x="269.20" y="360.90" font-size="9.9" fill="#111" text-anchor="end">10<tspan font-size="7.4" dy="-4.9" dx="0.2">-4</tspan></text>
<text x="269.20" y="380.60" font-size="9.9" fill="#111" text-anchor="end">10<tspan font-size="7.4" dy="-4.9" dx="0.2">-5</tspan></text>
<text x="269.20" y="400.30" font-size="9.9" fill="#111" text-anchor="end">10<tspan font-size="7.4" dy="-4.9" dx="0.2">-6</tspan></text>
<text x="269.20" y="420.00" font-size="9.9" fill="#111" text-anchor="end">10<tspan font-size="7.4" dy="-4.9" dx="0.2">-7</tspan></text>
<text x="269.20" y="439.70" font-size="9.9" fill="#111" text-anchor="end">10<tspan font-size="7.4" dy="-4.9" dx="0.2">-8</tspan></text>
<text x="269.20" y="459.40" font-size="9.9" fill="#111" text-anchor="end">10<tspan font-size="7.4" dy="-4.9" dx="0.2">-9</tspan></text>
<text x="362.25" y="477.3" font-size="10.85" fill="#1a1a1a" font-weight="normal" text-anchor="middle" >Iteration number</text>
<text x="0" y="0" font-size="10.6" fill="#111" text-anchor="middle" transform="translate(247.00,365.7) rotate(-90)">Relative error</text>
<clipPath id="clip273"><rect x="270.4" y="274.0" width="183.10" height="179.50"/></clipPath>
<g clip-path="url(#clip273)">
<polyline points="273.40,277.00 277.94,282.12 282.48,289.41 287.02,293.55 291.56,299.26 296.10,304.38 300.65,309.50 305.19,315.42 309.73,321.32 314.27,328.22 318.81,334.13 323.35,342.40 327.89,349.69 332.43,358.75 336.97,367.62 341.51,379.44 346.06,389.29 350.60,397.76 355.14,403.67 359.68,407.81 364.22,412.14 368.76,416.48 373.30,421.20 377.84,425.93 382.38,430.66 386.92,435.78 391.47,441.10 396.01,444.84 400.55,446.81 405.09,446.22 409.63,446.22 414.17,446.22 418.71,446.22 423.25,446.22 427.79,446.22 432.33,446.22 436.88,446.22 441.42,446.22 445.96,446.22 450.50,446.22" fill="none" stroke="#ef7259" stroke-width="1.1" stroke-linejoin="round"/>
<circle cx="273.40" cy="277.00" r="1.7" fill="#ef7259"/>
<circle cx="277.94" cy="282.12" r="1.7" fill="#ef7259"/>
<circle cx="282.48" cy="289.41" r="1.7" fill="#ef7259"/>
<circle cx="287.02" cy="293.55" r="1.7" fill="#ef7259"/>
<circle cx="291.56" cy="299.26" r="1.7" fill="#ef7259"/>
<circle cx="296.10" cy="304.38" r="1.7" fill="#ef7259"/>
<circle cx="300.65" cy="309.50" r="1.7" fill="#ef7259"/>
<circle cx="305.19" cy="315.42" r="1.7" fill="#ef7259"/>
<circle cx="309.73" cy="321.32" r="1.7" fill="#ef7259"/>
<circle cx="314.27" cy="328.22" r="1.7" fill="#ef7259"/>
<circle cx="318.81" cy="334.13" r="1.7" fill="#ef7259"/>
<circle cx="323.35" cy="342.40" r="1.7" fill="#ef7259"/>
<circle cx="327.89" cy="349.69" r="1.7" fill="#ef7259"/>
<circle cx="332.43" cy="358.75" r="1.7" fill="#ef7259"/>
<circle cx="336.97" cy="367.62" r="1.7" fill="#ef7259"/>
<circle cx="341.51" cy="379.44" r="1.7" fill="#ef7259"/>
<circle cx="346.06" cy="389.29" r="1.7" fill="#ef7259"/>
<circle cx="350.60" cy="397.76" r="1.7" fill="#ef7259"/>
<circle cx="355.14" cy="403.67" r="1.7" fill="#ef7259"/>
<circle cx="359.68" cy="407.81" r="1.7" fill="#ef7259"/>
<circle cx="364.22" cy="412.14" r="1.7" fill="#ef7259"/>
<circle cx="368.76" cy="416.48" r="1.7" fill="#ef7259"/>
<circle cx="373.30" cy="421.20" r="1.7" fill="#ef7259"/>
<circle cx="377.84" cy="425.93" r="1.7" fill="#ef7259"/>
<circle cx="382.38" cy="430.66" r="1.7" fill="#ef7259"/>
<circle cx="386.92" cy="435.78" r="1.7" fill="#ef7259"/>
<circle cx="391.47" cy="441.10" r="1.7" fill="#ef7259"/>
<circle cx="396.01" cy="444.84" r="1.7" fill="#ef7259"/>
<circle cx="400.55" cy="446.81" r="1.7" fill="#ef7259"/>
<circle cx="405.09" cy="446.22" r="1.7" fill="#ef7259"/>
<circle cx="409.63" cy="446.22" r="1.7" fill="#ef7259"/>
<circle cx="414.17" cy="446.22" r="1.7" fill="#ef7259"/>
<circle cx="418.71" cy="446.22" r="1.7" fill="#ef7259"/>
<circle cx="423.25" cy="446.22" r="1.7" fill="#ef7259"/>
<circle cx="427.79" cy="446.22" r="1.7" fill="#ef7259"/>
<circle cx="432.33" cy="446.22" r="1.7" fill="#ef7259"/>
<circle cx="436.88" cy="446.22" r="1.7" fill="#ef7259"/>
<circle cx="441.42" cy="446.22" r="1.7" fill="#ef7259"/>
<circle cx="445.96" cy="446.22" r="1.7" fill="#ef7259"/>
<circle cx="450.50" cy="446.22" r="1.7" fill="#ef7259"/>
<polyline points="273.40,277.00 277.94,292.76 282.48,306.94 287.02,317.58 291.56,330.19 296.10,341.42 300.65,353.83 305.19,364.67 309.73,376.29 314.27,387.91 318.81,398.75 323.35,409.98 327.89,420.81 332.43,432.24 336.97,441.10 341.51,446.22 346.06,446.22 350.60,446.22 355.14,446.22 359.68,446.22 364.22,446.22 368.76,446.22 373.30,446.22 377.84,446.22 382.38,446.22 386.92,446.22 391.47,446.22 396.01,446.22 400.55,446.22 405.09,446.22 409.63,446.22 414.17,446.22 418.71,446.22 423.25,446.22 427.79,446.22 432.33,446.22 436.88,446.22 441.42,446.22 445.96,446.22 450.50,446.22" fill="none" stroke="#ec5d4a" stroke-width="1.1" stroke-linejoin="round"/>
<circle cx="273.40" cy="277.00" r="1.7" fill="#ec5d4a"/>
<circle cx="277.94" cy="292.76" r="1.7" fill="#ec5d4a"/>
<circle cx="282.48" cy="306.94" r="1.7" fill="#ec5d4a"/>
<circle cx="287.02" cy="317.58" r="1.7" fill="#ec5d4a"/>
<circle cx="291.56" cy="330.19" r="1.7" fill="#ec5d4a"/>
<circle cx="296.10" cy="341.42" r="1.7" fill="#ec5d4a"/>
<circle cx="300.65" cy="353.83" r="1.7" fill="#ec5d4a"/>
<circle cx="305.19" cy="364.67" r="1.7" fill="#ec5d4a"/>
<circle cx="309.73" cy="376.29" r="1.7" fill="#ec5d4a"/>
<circle cx="314.27" cy="387.91" r="1.7" fill="#ec5d4a"/>
<circle cx="318.81" cy="398.75" r="1.7" fill="#ec5d4a"/>
<circle cx="323.35" cy="409.98" r="1.7" fill="#ec5d4a"/>
<circle cx="327.89" cy="420.81" r="1.7" fill="#ec5d4a"/>
<circle cx="332.43" cy="432.24" r="1.7" fill="#ec5d4a"/>
<circle cx="336.97" cy="441.10" r="1.7" fill="#ec5d4a"/>
<circle cx="341.51" cy="446.22" r="1.7" fill="#ec5d4a"/>
<circle cx="346.06" cy="446.22" r="1.7" fill="#ec5d4a"/>
<circle cx="350.60" cy="446.22" r="1.7" fill="#ec5d4a"/>
<circle cx="355.14" cy="446.22" r="1.7" fill="#ec5d4a"/>
<circle cx="359.68" cy="446.22" r="1.7" fill="#ec5d4a"/>
<circle cx="364.22" cy="446.22" r="1.7" fill="#ec5d4a"/>
<circle cx="368.76" cy="446.22" r="1.7" fill="#ec5d4a"/>
<circle cx="373.30" cy="446.22" r="1.7" fill="#ec5d4a"/>
<circle cx="377.84" cy="446.22" r="1.7" fill="#ec5d4a"/>
<circle cx="382.38" cy="446.22" r="1.7" fill="#ec5d4a"/>
<circle cx="386.92" cy="446.22" r="1.7" fill="#ec5d4a"/>
<circle cx="391.47" cy="446.22" r="1.7" fill="#ec5d4a"/>
<circle cx="396.01" cy="446.22" r="1.7" fill="#ec5d4a"/>
<circle cx="400.55" cy="446.22" r="1.7" fill="#ec5d4a"/>
<circle cx="405.09" cy="446.22" r="1.7" fill="#ec5d4a"/>
<circle cx="409.63" cy="446.22" r="1.7" fill="#ec5d4a"/>
<circle cx="414.17" cy="446.22" r="1.7" fill="#ec5d4a"/>
<circle cx="418.71" cy="446.22" r="1.7" fill="#ec5d4a"/>
<circle cx="423.25" cy="446.22" r="1.7" fill="#ec5d4a"/>
<circle cx="427.79" cy="446.22" r="1.7" fill="#ec5d4a"/>
<circle cx="432.33" cy="446.22" r="1.7" fill="#ec5d4a"/>
<circle cx="436.88" cy="446.22" r="1.7" fill="#ec5d4a"/>
<circle cx="441.42" cy="446.22" r="1.7" fill="#ec5d4a"/>
<circle cx="445.96" cy="446.22" r="1.7" fill="#ec5d4a"/>
<circle cx="450.50" cy="446.22" r="1.7" fill="#ec5d4a"/>
<polyline points="273.40,277.00 277.94,300.64 282.48,321.32 287.02,340.24 291.56,359.35 296.10,377.67 300.65,396.19 305.19,414.11 309.73,432.04 314.27,444.45 318.81,446.22 323.35,446.22 327.89,446.22 332.43,446.22 336.97,446.22 341.51,446.22 346.06,446.22 350.60,446.22 355.14,446.22 359.68,446.22 364.22,446.22 368.76,446.22 373.30,446.22 377.84,446.22 382.38,446.22 386.92,446.22 391.47,446.22 396.01,446.22 400.55,446.22 405.09,446.22 409.63,446.22 414.17,446.22 418.71,446.22 423.25,446.22 427.79,446.22 432.33,446.22 436.88,446.22 441.42,446.22 445.96,446.22 450.50,446.22" fill="none" stroke="#e4403e" stroke-width="1.1" stroke-linejoin="round"/>
<circle cx="273.40" cy="277.00" r="1.7" fill="#e4403e"/>
<circle cx="277.94" cy="300.64" r="1.7" fill="#e4403e"/>
<circle cx="282.48" cy="321.32" r="1.7" fill="#e4403e"/>
<circle cx="287.02" cy="340.24" r="1.7" fill="#e4403e"/>
<circle cx="291.56" cy="359.35" r="1.7" fill="#e4403e"/>
<circle cx="296.10" cy="377.67" r="1.7" fill="#e4403e"/>
<circle cx="300.65" cy="396.19" r="1.7" fill="#e4403e"/>
<circle cx="305.19" cy="414.11" r="1.7" fill="#e4403e"/>
<circle cx="309.73" cy="432.04" r="1.7" fill="#e4403e"/>
<circle cx="314.27" cy="444.45" r="1.7" fill="#e4403e"/>
<circle cx="318.81" cy="446.22" r="1.7" fill="#e4403e"/>
<circle cx="323.35" cy="446.22" r="1.7" fill="#e4403e"/>
<circle cx="327.89" cy="446.22" r="1.7" fill="#e4403e"/>
<circle cx="332.43" cy="446.22" r="1.7" fill="#e4403e"/>
<circle cx="336.97" cy="446.22" r="1.7" fill="#e4403e"/>
<circle cx="341.51" cy="446.22" r="1.7" fill="#e4403e"/>
<circle cx="346.06" cy="446.22" r="1.7" fill="#e4403e"/>
<circle cx="350.60" cy="446.22" r="1.7" fill="#e4403e"/>
<circle cx="355.14" cy="446.22" r="1.7" fill="#e4403e"/>
<circle cx="359.68" cy="446.22" r="1.7" fill="#e4403e"/>
<circle cx="364.22" cy="446.22" r="1.7" fill="#e4403e"/>
<circle cx="368.76" cy="446.22" r="1.7" fill="#e4403e"/>
<circle cx="373.30" cy="446.22" r="1.7" fill="#e4403e"/>
<circle cx="377.84" cy="446.22" r="1.7" fill="#e4403e"/>
<circle cx="382.38" cy="446.22" r="1.7" fill="#e4403e"/>
<circle cx="386.92" cy="446.22" r="1.7" fill="#e4403e"/>
<circle cx="391.47" cy="446.22" r="1.7" fill="#e4403e"/>
<circle cx="396.01" cy="446.22" r="1.7" fill="#e4403e"/>
<circle cx="400.55" cy="446.22" r="1.7" fill="#e4403e"/>
<circle cx="405.09" cy="446.22" r="1.7" fill="#e4403e"/>
<circle cx="409.63" cy="446.22" r="1.7" fill="#e4403e"/>
<circle cx="414.17" cy="446.22" r="1.7" fill="#e4403e"/>
<circle cx="418.71" cy="446.22" r="1.7" fill="#e4403e"/>
<circle cx="423.25" cy="446.22" r="1.7" fill="#e4403e"/>
<circle cx="427.79" cy="446.22" r="1.7" fill="#e4403e"/>
<circle cx="432.33" cy="446.22" r="1.7" fill="#e4403e"/>
<circle cx="436.88" cy="446.22" r="1.7" fill="#e4403e"/>
<circle cx="441.42" cy="446.22" r="1.7" fill="#e4403e"/>
<circle cx="445.96" cy="446.22" r="1.7" fill="#e4403e"/>
<circle cx="450.50" cy="446.22" r="1.7" fill="#e4403e"/>
<polyline points="273.40,277.00 277.94,303.60 282.48,326.45 287.02,349.10 291.56,373.14 296.10,395.20 300.65,418.84 305.19,441.50 309.73,446.22 314.27,446.22 318.81,446.22 323.35,446.22 327.89,446.22 332.43,446.22 336.97,446.22 341.51,446.22 346.06,446.22 350.60,446.22 355.14,446.22 359.68,446.22 364.22,446.22 368.76,446.22 373.30,446.22 377.84,446.22 382.38,446.22 386.92,446.22 391.47,446.22 396.01,446.22 400.55,446.22 405.09,446.22 409.63,446.22 414.17,446.22 418.71,446.22 423.25,446.22 427.79,446.22 432.33,446.22 436.88,446.22 441.42,446.22 445.96,446.22 450.50,446.22" fill="none" stroke="#d22637" stroke-width="1.1" stroke-linejoin="round"/>
<circle cx="273.40" cy="277.00" r="1.7" fill="#d22637"/>
<circle cx="277.94" cy="303.60" r="1.7" fill="#d22637"/>
<circle cx="282.48" cy="326.45" r="1.7" fill="#d22637"/>
<circle cx="287.02" cy="349.10" r="1.7" fill="#d22637"/>
<circle cx="291.56" cy="373.14" r="1.7" fill="#d22637"/>
<circle cx="296.10" cy="395.20" r="1.7" fill="#d22637"/>
<circle cx="300.65" cy="418.84" r="1.7" fill="#d22637"/>
<circle cx="305.19" cy="441.50" r="1.7" fill="#d22637"/>
<circle cx="309.73" cy="446.22" r="1.7" fill="#d22637"/>
<circle cx="314.27" cy="446.22" r="1.7" fill="#d22637"/>
<circle cx="318.81" cy="446.22" r="1.7" fill="#d22637"/>
<circle cx="323.35" cy="446.22" r="1.7" fill="#d22637"/>
<circle cx="327.89" cy="446.22" r="1.7" fill="#d22637"/>
<circle cx="332.43" cy="446.22" r="1.7" fill="#d22637"/>
<circle cx="336.97" cy="446.22" r="1.7" fill="#d22637"/>
<circle cx="341.51" cy="446.22" r="1.7" fill="#d22637"/>
<circle cx="346.06" cy="446.22" r="1.7" fill="#d22637"/>
<circle cx="350.60" cy="446.22" r="1.7" fill="#d22637"/>
<circle cx="355.14" cy="446.22" r="1.7" fill="#d22637"/>
<circle cx="359.68" cy="446.22" r="1.7" fill="#d22637"/>
<circle cx="364.22" cy="446.22" r="1.7" fill="#d22637"/>
<circle cx="368.76" cy="446.22" r="1.7" fill="#d22637"/>
<circle cx="373.30" cy="446.22" r="1.7" fill="#d22637"/>
<circle cx="377.84" cy="446.22" r="1.7" fill="#d22637"/>
<circle cx="382.38" cy="446.22" r="1.7" fill="#d22637"/>
<circle cx="386.92" cy="446.22" r="1.7" fill="#d22637"/>
<circle cx="391.47" cy="446.22" r="1.7" fill="#d22637"/>
<circle cx="396.01" cy="446.22" r="1.7" fill="#d22637"/>
<circle cx="400.55" cy="446.22" r="1.7" fill="#d22637"/>
<circle cx="405.09" cy="446.22" r="1.7" fill="#d22637"/>
<circle cx="409.63" cy="446.22" r="1.7" fill="#d22637"/>
<circle cx="414.17" cy="446.22" r="1.7" fill="#d22637"/>
<circle cx="418.71" cy="446.22" r="1.7" fill="#d22637"/>
<circle cx="423.25" cy="446.22" r="1.7" fill="#d22637"/>
<circle cx="427.79" cy="446.22" r="1.7" fill="#d22637"/>
<circle cx="432.33" cy="446.22" r="1.7" fill="#d22637"/>
<circle cx="436.88" cy="446.22" r="1.7" fill="#d22637"/>
<circle cx="441.42" cy="446.22" r="1.7" fill="#d22637"/>
<circle cx="445.96" cy="446.22" r="1.7" fill="#d22637"/>
<circle cx="450.50" cy="446.22" r="1.7" fill="#d22637"/>
<polyline points="273.40,277.00 277.94,310.49 282.48,339.84 287.02,368.61 291.56,394.61 296.10,422.78 300.65,448.39 305.19,446.22 309.73,446.22 314.27,446.22 318.81,446.22 323.35,446.22 327.89,446.22 332.43,446.22 336.97,446.22 341.51,446.22 346.06,446.22 350.60,446.22 355.14,446.22 359.68,446.22 364.22,446.22 368.76,446.22 373.30,446.22 377.84,446.22 382.38,446.22 386.92,446.22 391.47,446.22 396.01,446.22 400.55,446.22 405.09,446.22 409.63,446.22 414.17,446.22 418.71,446.22 423.25,446.22 427.79,446.22 432.33,446.22 436.88,446.22 441.42,446.22 445.96,446.22 450.50,446.22" fill="none" stroke="#b3142d" stroke-width="1.1" stroke-linejoin="round"/>
<circle cx="273.40" cy="277.00" r="1.7" fill="#b3142d"/>
<circle cx="277.94" cy="310.49" r="1.7" fill="#b3142d"/>
<circle cx="282.48" cy="339.84" r="1.7" fill="#b3142d"/>
<circle cx="287.02" cy="368.61" r="1.7" fill="#b3142d"/>
<circle cx="291.56" cy="394.61" r="1.7" fill="#b3142d"/>
<circle cx="296.10" cy="422.78" r="1.7" fill="#b3142d"/>
<circle cx="300.65" cy="448.39" r="1.7" fill="#b3142d"/>
<circle cx="305.19" cy="446.22" r="1.7" fill="#b3142d"/>
<circle cx="309.73" cy="446.22" r="1.7" fill="#b3142d"/>
<circle cx="314.27" cy="446.22" r="1.7" fill="#b3142d"/>
<circle cx="318.81" cy="446.22" r="1.7" fill="#b3142d"/>
<circle cx="323.35" cy="446.22" r="1.7" fill="#b3142d"/>
<circle cx="327.89" cy="446.22" r="1.7" fill="#b3142d"/>
<circle cx="332.43" cy="446.22" r="1.7" fill="#b3142d"/>
<circle cx="336.97" cy="446.22" r="1.7" fill="#b3142d"/>
<circle cx="341.51" cy="446.22" r="1.7" fill="#b3142d"/>
<circle cx="346.06" cy="446.22" r="1.7" fill="#b3142d"/>
<circle cx="350.60" cy="446.22" r="1.7" fill="#b3142d"/>
<circle cx="355.14" cy="446.22" r="1.7" fill="#b3142d"/>
<circle cx="359.68" cy="446.22" r="1.7" fill="#b3142d"/>
<circle cx="364.22" cy="446.22" r="1.7" fill="#b3142d"/>
<circle cx="368.76" cy="446.22" r="1.7" fill="#b3142d"/>
<circle cx="373.30" cy="446.22" r="1.7" fill="#b3142d"/>
<circle cx="377.84" cy="446.22" r="1.7" fill="#b3142d"/>
<circle cx="382.38" cy="446.22" r="1.7" fill="#b3142d"/>
<circle cx="386.92" cy="446.22" r="1.7" fill="#b3142d"/>
<circle cx="391.47" cy="446.22" r="1.7" fill="#b3142d"/>
<circle cx="396.01" cy="446.22" r="1.7" fill="#b3142d"/>
<circle cx="400.55" cy="446.22" r="1.7" fill="#b3142d"/>
<circle cx="405.09" cy="446.22" r="1.7" fill="#b3142d"/>
<circle cx="409.63" cy="446.22" r="1.7" fill="#b3142d"/>
<circle cx="414.17" cy="446.22" r="1.7" fill="#b3142d"/>
<circle cx="418.71" cy="446.22" r="1.7" fill="#b3142d"/>
<circle cx="423.25" cy="446.22" r="1.7" fill="#b3142d"/>
<circle cx="427.79" cy="446.22" r="1.7" fill="#b3142d"/>
<circle cx="432.33" cy="446.22" r="1.7" fill="#b3142d"/>
<circle cx="436.88" cy="446.22" r="1.7" fill="#b3142d"/>
<circle cx="441.42" cy="446.22" r="1.7" fill="#b3142d"/>
<circle cx="445.96" cy="446.22" r="1.7" fill="#b3142d"/>
<circle cx="450.50" cy="446.22" r="1.7" fill="#b3142d"/>
<polyline points="273.40,277.00 277.94,317.98 282.48,356.98 287.02,394.22 291.56,429.08 296.10,446.22 300.65,446.22 305.19,446.22 309.73,446.22 314.27,446.22 318.81,446.22 323.35,446.22 327.89,446.22 332.43,446.22 336.97,446.22 341.51,446.22 346.06,446.22 350.60,446.22 355.14,446.22 359.68,446.22 364.22,446.22 368.76,446.22 373.30,446.22 377.84,446.22 382.38,446.22 386.92,446.22 391.47,446.22 396.01,446.22 400.55,446.22 405.09,446.22 409.63,446.22 414.17,446.22 418.71,446.22 423.25,446.22 427.79,446.22 432.33,446.22 436.88,446.22 441.42,446.22 445.96,446.22 450.50,446.22" fill="none" stroke="#880a22" stroke-width="1.1" stroke-linejoin="round"/>
<circle cx="273.40" cy="277.00" r="1.7" fill="#880a22"/>
<circle cx="277.94" cy="317.98" r="1.7" fill="#880a22"/>
<circle cx="282.48" cy="356.98" r="1.7" fill="#880a22"/>
<circle cx="287.02" cy="394.22" r="1.7" fill="#880a22"/>
<circle cx="291.56" cy="429.08" r="1.7" fill="#880a22"/>
<circle cx="296.10" cy="446.22" r="1.7" fill="#880a22"/>
<circle cx="300.65" cy="446.22" r="1.7" fill="#880a22"/>
<circle cx="305.19" cy="446.22" r="1.7" fill="#880a22"/>
<circle cx="309.73" cy="446.22" r="1.7" fill="#880a22"/>
<circle cx="314.27" cy="446.22" r="1.7" fill="#880a22"/>
<circle cx="318.81" cy="446.22" r="1.7" fill="#880a22"/>
<circle cx="323.35" cy="446.22" r="1.7" fill="#880a22"/>
<circle cx="327.89" cy="446.22" r="1.7" fill="#880a22"/>
<circle cx="332.43" cy="446.22" r="1.7" fill="#880a22"/>
<circle cx="336.97" cy="446.22" r="1.7" fill="#880a22"/>
<circle cx="341.51" cy="446.22" r="1.7" fill="#880a22"/>
<circle cx="346.06" cy="446.22" r="1.7" fill="#880a22"/>
<circle cx="350.60" cy="446.22" r="1.7" fill="#880a22"/>
<circle cx="355.14" cy="446.22" r="1.7" fill="#880a22"/>
<circle cx="359.68" cy="446.22" r="1.7" fill="#880a22"/>
<circle cx="364.22" cy="446.22" r="1.7" fill="#880a22"/>
<circle cx="368.76" cy="446.22" r="1.7" fill="#880a22"/>
<circle cx="373.30" cy="446.22" r="1.7" fill="#880a22"/>
<circle cx="377.84" cy="446.22" r="1.7" fill="#880a22"/>
<circle cx="382.38" cy="446.22" r="1.7" fill="#880a22"/>
<circle cx="386.92" cy="446.22" r="1.7" fill="#880a22"/>
<circle cx="391.47" cy="446.22" r="1.7" fill="#880a22"/>
<circle cx="396.01" cy="446.22" r="1.7" fill="#880a22"/>
<circle cx="400.55" cy="446.22" r="1.7" fill="#880a22"/>
<circle cx="405.09" cy="446.22" r="1.7" fill="#880a22"/>
<circle cx="409.63" cy="446.22" r="1.7" fill="#880a22"/>
<circle cx="414.17" cy="446.22" r="1.7" fill="#880a22"/>
<circle cx="418.71" cy="446.22" r="1.7" fill="#880a22"/>
<circle cx="423.25" cy="446.22" r="1.7" fill="#880a22"/>
<circle cx="427.79" cy="446.22" r="1.7" fill="#880a22"/>
<circle cx="432.33" cy="446.22" r="1.7" fill="#880a22"/>
<circle cx="436.88" cy="446.22" r="1.7" fill="#880a22"/>
<circle cx="441.42" cy="446.22" r="1.7" fill="#880a22"/>
<circle cx="445.96" cy="446.22" r="1.7" fill="#880a22"/>
<circle cx="450.50" cy="446.22" r="1.7" fill="#880a22"/>
</g>
<rect x="389.5" y="281.5" width="55.3" height="89.4" fill="#fff" stroke="#666" stroke-width="0.9"/>
<line x1="390.1" y1="289.20" x2="401.8" y2="289.20" stroke="#ef7259" stroke-width="1.1"/>
<circle cx="395.95" cy="289.20" r="2.0" fill="#ef7259"/>
<text x="403.2" y="291.30" font-size="9" fill="#111">N<tspan font-size="6.7" dy="3.6">bit,L</tspan><tspan dy="-3.6" dx="0.6"> = 5</tspan></text>
<line x1="390.1" y1="303.82" x2="401.8" y2="303.82" stroke="#ec5d4a" stroke-width="1.1"/>
<circle cx="395.95" cy="303.82" r="2.0" fill="#ec5d4a"/>
<text x="403.2" y="305.92" font-size="9" fill="#111">N<tspan font-size="6.7" dy="3.6">bit,L</tspan><tspan dy="-3.6" dx="0.6"> = 6</tspan></text>
<line x1="390.1" y1="318.44" x2="401.8" y2="318.44" stroke="#e4403e" stroke-width="1.1"/>
<circle cx="395.95" cy="318.44" r="2.0" fill="#e4403e"/>
<text x="403.2" y="320.54" font-size="9" fill="#111">N<tspan font-size="6.7" dy="3.6">bit,L</tspan><tspan dy="-3.6" dx="0.6"> = 7</tspan></text>
<line x1="390.1" y1="333.06" x2="401.8" y2="333.06" stroke="#d22637" stroke-width="1.1"/>
<circle cx="395.95" cy="333.06" r="2.0" fill="#d22637"/>
<text x="403.2" y="335.16" font-size="9" fill="#111">N<tspan font-size="6.7" dy="3.6">bit,L</tspan><tspan dy="-3.6" dx="0.6"> = 8</tspan></text>
<line x1="390.1" y1="347.68" x2="401.8" y2="347.68" stroke="#b3142d" stroke-width="1.1"/>
<circle cx="395.95" cy="347.68" r="2.0" fill="#b3142d"/>
<text x="403.2" y="349.78" font-size="9" fill="#111">N<tspan font-size="6.7" dy="3.6">bit,L</tspan><tspan dy="-3.6" dx="0.6"> = 9</tspan></text>
<line x1="390.1" y1="362.30" x2="401.8" y2="362.30" stroke="#880a22" stroke-width="1.1"/>
<circle cx="395.95" cy="362.30" r="2.0" fill="#880a22"/>
<text x="403.2" y="364.40" font-size="9" fill="#111">N<tspan font-size="6.7" dy="3.6">bit,L</tspan><tspan dy="-3.6" dx="0.6"> = 10</tspan></text>
<line x1="502.4" y1="277.0" x2="679.50" y2="277.0" stroke="#c4c4c4" stroke-width="1.5"/>
<line x1="679.50" y1="277.0" x2="679.50" y2="454.30" stroke="#999" stroke-width="1.1"/>
<line x1="502.4" y1="276.5" x2="502.4" y2="454.80" stroke="#8a8a8a" stroke-width="1.2"/>
<line x1="501.9" y1="454.30" x2="680.00" y2="454.30" stroke="#777" stroke-width="1.3"/>
<line x1="520.56" y1="454.30" x2="520.56" y2="452.30" stroke="#777" stroke-width="1"/>
<line x1="520.56" y1="277.0" x2="520.56" y2="279.0" stroke="#888" stroke-width="1"/>
<line x1="543.27" y1="454.30" x2="543.27" y2="452.30" stroke="#777" stroke-width="1"/>
<line x1="543.27" y1="277.0" x2="543.27" y2="279.0" stroke="#888" stroke-width="1"/>
<line x1="565.97" y1="454.30" x2="565.97" y2="452.30" stroke="#777" stroke-width="1"/>
<line x1="565.97" y1="277.0" x2="565.97" y2="279.0" stroke="#888" stroke-width="1"/>
<line x1="588.68" y1="454.30" x2="588.68" y2="452.30" stroke="#777" stroke-width="1"/>
<line x1="588.68" y1="277.0" x2="588.68" y2="279.0" stroke="#888" stroke-width="1"/>
<line x1="611.38" y1="454.30" x2="611.38" y2="452.30" stroke="#777" stroke-width="1"/>
<line x1="611.38" y1="277.0" x2="611.38" y2="279.0" stroke="#888" stroke-width="1"/>
<line x1="634.09" y1="454.30" x2="634.09" y2="452.30" stroke="#777" stroke-width="1"/>
<line x1="634.09" y1="277.0" x2="634.09" y2="279.0" stroke="#888" stroke-width="1"/>
<line x1="656.79" y1="454.30" x2="656.79" y2="452.30" stroke="#777" stroke-width="1"/>
<line x1="656.79" y1="277.0" x2="656.79" y2="279.0" stroke="#888" stroke-width="1"/>
<line x1="502.4" y1="296.70" x2="504.4" y2="296.70" stroke="#888" stroke-width="1"/>
<line x1="679.50" y1="296.70" x2="677.50" y2="296.70" stroke="#999" stroke-width="1"/>
<line x1="502.4" y1="316.40" x2="504.4" y2="316.40" stroke="#888" stroke-width="1"/>
<line x1="679.50" y1="316.40" x2="677.50" y2="316.40" stroke="#999" stroke-width="1"/>
<line x1="502.4" y1="336.10" x2="504.4" y2="336.10" stroke="#888" stroke-width="1"/>
<line x1="679.50" y1="336.10" x2="677.50" y2="336.10" stroke="#999" stroke-width="1"/>
<line x1="502.4" y1="355.80" x2="504.4" y2="355.80" stroke="#888" stroke-width="1"/>
<line x1="679.50" y1="355.80" x2="677.50" y2="355.80" stroke="#999" stroke-width="1"/>
<line x1="502.4" y1="375.50" x2="504.4" y2="375.50" stroke="#888" stroke-width="1"/>
<line x1="679.50" y1="375.50" x2="677.50" y2="375.50" stroke="#999" stroke-width="1"/>
<line x1="502.4" y1="395.20" x2="504.4" y2="395.20" stroke="#888" stroke-width="1"/>
<line x1="679.50" y1="395.20" x2="677.50" y2="395.20" stroke="#999" stroke-width="1"/>
<line x1="502.4" y1="414.90" x2="504.4" y2="414.90" stroke="#888" stroke-width="1"/>
<line x1="679.50" y1="414.90" x2="677.50" y2="414.90" stroke="#999" stroke-width="1"/>
<line x1="502.4" y1="434.60" x2="504.4" y2="434.60" stroke="#888" stroke-width="1"/>
<line x1="679.50" y1="434.60" x2="677.50" y2="434.60" stroke="#999" stroke-width="1"/>
<text x="502.40" y="464.4" font-size="9.6" fill="#111" font-weight="normal" text-anchor="middle" >1</text>
<text x="520.56" y="464.4" font-size="9.6" fill="#111" font-weight="normal" text-anchor="middle" >5</text>
<text x="543.27" y="464.4" font-size="9.6" fill="#111" font-weight="normal" text-anchor="middle" >10</text>
<text x="565.97" y="464.4" font-size="9.6" fill="#111" font-weight="normal" text-anchor="middle" >15</text>
<text x="588.68" y="464.4" font-size="9.6" fill="#111" font-weight="normal" text-anchor="middle" >20</text>
<text x="611.38" y="464.4" font-size="9.6" fill="#111" font-weight="normal" text-anchor="middle" >25</text>
<text x="634.09" y="464.4" font-size="9.6" fill="#111" font-weight="normal" text-anchor="middle" >30</text>
<text x="656.79" y="464.4" font-size="9.6" fill="#111" font-weight="normal" text-anchor="middle" >35</text>
<text x="679.50" y="464.4" font-size="9.6" fill="#111" font-weight="normal" text-anchor="middle" >40</text>
<text x="498.20" y="282.10" font-size="9.9" fill="#111" text-anchor="end">10<tspan font-size="7.4" dy="-4.9" dx="0.2">0</tspan></text>
<text x="498.20" y="301.80" font-size="9.9" fill="#111" text-anchor="end">10<tspan font-size="7.4" dy="-4.9" dx="0.2">-1</tspan></text>
<text x="498.20" y="321.50" font-size="9.9" fill="#111" text-anchor="end">10<tspan font-size="7.4" dy="-4.9" dx="0.2">-2</tspan></text>
<text x="498.20" y="341.20" font-size="9.9" fill="#111" text-anchor="end">10<tspan font-size="7.4" dy="-4.9" dx="0.2">-3</tspan></text>
<text x="498.20" y="360.90" font-size="9.9" fill="#111" text-anchor="end">10<tspan font-size="7.4" dy="-4.9" dx="0.2">-4</tspan></text>
<text x="498.20" y="380.60" font-size="9.9" fill="#111" text-anchor="end">10<tspan font-size="7.4" dy="-4.9" dx="0.2">-5</tspan></text>
<text x="498.20" y="400.30" font-size="9.9" fill="#111" text-anchor="end">10<tspan font-size="7.4" dy="-4.9" dx="0.2">-6</tspan></text>
<text x="498.20" y="420.00" font-size="9.9" fill="#111" text-anchor="end">10<tspan font-size="7.4" dy="-4.9" dx="0.2">-7</tspan></text>
<text x="498.20" y="439.70" font-size="9.9" fill="#111" text-anchor="end">10<tspan font-size="7.4" dy="-4.9" dx="0.2">-8</tspan></text>
<text x="498.20" y="459.40" font-size="9.9" fill="#111" text-anchor="end">10<tspan font-size="7.4" dy="-4.9" dx="0.2">-9</tspan></text>
<text x="591.25" y="477.3" font-size="10.85" fill="#1a1a1a" font-weight="normal" text-anchor="middle" >Iteration number</text>
<text x="0" y="0" font-size="10.6" fill="#111" text-anchor="middle" transform="translate(476.00,365.7) rotate(-90)">Relative error</text>
<clipPath id="clip502"><rect x="499.4" y="274.0" width="183.10" height="179.50"/></clipPath>
<g clip-path="url(#clip502)">
<polyline points="502.40,277.00 506.94,300.25 511.48,317.98 516.02,337.48 520.56,355.41 525.11,372.94 529.65,390.47 534.19,408.00 538.73,424.75 543.27,442.09 547.81,453.71 552.35,456.27 556.89,456.27 561.43,456.27 565.97,456.27 570.51,456.27 575.06,456.27 579.60,456.27 584.14,456.27 588.68,456.27 593.22,456.27 597.76,456.27 602.30,456.27 606.84,456.27 611.38,456.27 615.92,456.27 620.47,456.27 625.01,456.27 629.55,456.27 634.09,456.27 638.63,456.27 643.17,456.27 647.71,456.27 652.25,456.27 656.79,456.27 661.34,456.27 665.88,456.27 670.42,456.27 674.96,456.27 679.50,456.27" fill="none" stroke="#86c79a" stroke-width="1.1" stroke-linejoin="round"/>
<circle cx="502.40" cy="277.00" r="1.7" fill="#86c79a"/>
<circle cx="506.94" cy="300.25" r="1.7" fill="#86c79a"/>
<circle cx="511.48" cy="317.98" r="1.7" fill="#86c79a"/>
<circle cx="516.02" cy="337.48" r="1.7" fill="#86c79a"/>
<circle cx="520.56" cy="355.41" r="1.7" fill="#86c79a"/>
<circle cx="525.11" cy="372.94" r="1.7" fill="#86c79a"/>
<circle cx="529.65" cy="390.47" r="1.7" fill="#86c79a"/>
<circle cx="534.19" cy="408.00" r="1.7" fill="#86c79a"/>
<circle cx="538.73" cy="424.75" r="1.7" fill="#86c79a"/>
<circle cx="543.27" cy="442.09" r="1.7" fill="#86c79a"/>
<circle cx="547.81" cy="453.71" r="1.7" fill="#86c79a"/>
<circle cx="552.35" cy="456.27" r="1.7" fill="#86c79a"/>
<circle cx="556.89" cy="456.27" r="1.7" fill="#86c79a"/>
<circle cx="561.43" cy="456.27" r="1.7" fill="#86c79a"/>
<circle cx="565.97" cy="456.27" r="1.7" fill="#86c79a"/>
<circle cx="570.51" cy="456.27" r="1.7" fill="#86c79a"/>
<circle cx="575.06" cy="456.27" r="1.7" fill="#86c79a"/>
<circle cx="579.60" cy="456.27" r="1.7" fill="#86c79a"/>
<circle cx="584.14" cy="456.27" r="1.7" fill="#86c79a"/>
<circle cx="588.68" cy="456.27" r="1.7" fill="#86c79a"/>
<circle cx="593.22" cy="456.27" r="1.7" fill="#86c79a"/>
<circle cx="597.76" cy="456.27" r="1.7" fill="#86c79a"/>
<circle cx="602.30" cy="456.27" r="1.7" fill="#86c79a"/>
<circle cx="606.84" cy="456.27" r="1.7" fill="#86c79a"/>
<circle cx="611.38" cy="456.27" r="1.7" fill="#86c79a"/>
<circle cx="615.92" cy="456.27" r="1.7" fill="#86c79a"/>
<circle cx="620.47" cy="456.27" r="1.7" fill="#86c79a"/>
<circle cx="625.01" cy="456.27" r="1.7" fill="#86c79a"/>
<circle cx="629.55" cy="456.27" r="1.7" fill="#86c79a"/>
<circle cx="634.09" cy="456.27" r="1.7" fill="#86c79a"/>
<circle cx="638.63" cy="456.27" r="1.7" fill="#86c79a"/>
<circle cx="643.17" cy="456.27" r="1.7" fill="#86c79a"/>
<circle cx="647.71" cy="456.27" r="1.7" fill="#86c79a"/>
<circle cx="652.25" cy="456.27" r="1.7" fill="#86c79a"/>
<circle cx="656.79" cy="456.27" r="1.7" fill="#86c79a"/>
<circle cx="661.34" cy="456.27" r="1.7" fill="#86c79a"/>
<circle cx="665.88" cy="456.27" r="1.7" fill="#86c79a"/>
<circle cx="670.42" cy="456.27" r="1.7" fill="#86c79a"/>
<circle cx="674.96" cy="456.27" r="1.7" fill="#86c79a"/>
<circle cx="679.50" cy="456.27" r="1.7" fill="#86c79a"/>
<polyline points="502.40,277.00 506.94,294.73 511.48,311.48 516.02,328.22 520.56,342.21 525.11,357.18 529.65,372.15 534.19,387.71 538.73,401.11 543.27,415.69 547.81,429.67 552.35,443.46 556.89,449.18 561.43,449.18 565.97,449.18 570.51,449.18 575.06,449.18 579.60,449.18 584.14,449.18 588.68,449.18 593.22,449.18 597.76,449.18 602.30,449.18 606.84,449.18 611.38,449.18 615.92,449.18 620.47,449.18 625.01,449.18 629.55,449.18 634.09,449.18 638.63,449.18 643.17,449.18 647.71,449.18 652.25,449.18 656.79,449.18 661.34,449.18 665.88,449.18 670.42,449.18 674.96,449.18 679.50,449.18" fill="none" stroke="#66b986" stroke-width="1.1" stroke-linejoin="round"/>
<circle cx="502.40" cy="277.00" r="1.7" fill="#66b986"/>
<circle cx="506.94" cy="294.73" r="1.7" fill="#66b986"/>
<circle cx="511.48" cy="311.48" r="1.7" fill="#66b986"/>
<circle cx="516.02" cy="328.22" r="1.7" fill="#66b986"/>
<circle cx="520.56" cy="342.21" r="1.7" fill="#66b986"/>
<circle cx="525.11" cy="357.18" r="1.7" fill="#66b986"/>
<circle cx="529.65" cy="372.15" r="1.7" fill="#66b986"/>
<circle cx="534.19" cy="387.71" r="1.7" fill="#66b986"/>
<circle cx="538.73" cy="401.11" r="1.7" fill="#66b986"/>
<circle cx="543.27" cy="415.69" r="1.7" fill="#66b986"/>
<circle cx="547.81" cy="429.67" r="1.7" fill="#66b986"/>
<circle cx="552.35" cy="443.46" r="1.7" fill="#66b986"/>
<circle cx="556.89" cy="449.18" r="1.7" fill="#66b986"/>
<circle cx="561.43" cy="449.18" r="1.7" fill="#66b986"/>
<circle cx="565.97" cy="449.18" r="1.7" fill="#66b986"/>
<circle cx="570.51" cy="449.18" r="1.7" fill="#66b986"/>
<circle cx="575.06" cy="449.18" r="1.7" fill="#66b986"/>
<circle cx="579.60" cy="449.18" r="1.7" fill="#66b986"/>
<circle cx="584.14" cy="449.18" r="1.7" fill="#66b986"/>
<circle cx="588.68" cy="449.18" r="1.7" fill="#66b986"/>
<circle cx="593.22" cy="449.18" r="1.7" fill="#66b986"/>
<circle cx="597.76" cy="449.18" r="1.7" fill="#66b986"/>
<circle cx="602.30" cy="449.18" r="1.7" fill="#66b986"/>
<circle cx="606.84" cy="449.18" r="1.7" fill="#66b986"/>
<circle cx="611.38" cy="449.18" r="1.7" fill="#66b986"/>
<circle cx="615.92" cy="449.18" r="1.7" fill="#66b986"/>
<circle cx="620.47" cy="449.18" r="1.7" fill="#66b986"/>
<circle cx="625.01" cy="449.18" r="1.7" fill="#66b986"/>
<circle cx="629.55" cy="449.18" r="1.7" fill="#66b986"/>
<circle cx="634.09" cy="449.18" r="1.7" fill="#66b986"/>
<circle cx="638.63" cy="449.18" r="1.7" fill="#66b986"/>
<circle cx="643.17" cy="449.18" r="1.7" fill="#66b986"/>
<circle cx="647.71" cy="449.18" r="1.7" fill="#66b986"/>
<circle cx="652.25" cy="449.18" r="1.7" fill="#66b986"/>
<circle cx="656.79" cy="449.18" r="1.7" fill="#66b986"/>
<circle cx="661.34" cy="449.18" r="1.7" fill="#66b986"/>
<circle cx="665.88" cy="449.18" r="1.7" fill="#66b986"/>
<circle cx="670.42" cy="449.18" r="1.7" fill="#66b986"/>
<circle cx="674.96" cy="449.18" r="1.7" fill="#66b986"/>
<circle cx="679.50" cy="449.18" r="1.7" fill="#66b986"/>
<polyline points="502.40,277.00 506.94,290.79 511.48,302.41 516.02,313.25 520.56,321.72 525.11,333.14 529.65,340.83 534.19,352.06 538.73,361.71 543.27,372.74 547.81,382.59 552.35,393.82 556.89,404.46 561.43,414.90 565.97,427.31 570.51,436.96 575.06,444.84 579.60,447.21 584.14,447.21 588.68,447.21 593.22,447.21 597.76,447.21 602.30,447.21 606.84,447.21 611.38,447.21 615.92,447.21 620.47,447.21 625.01,447.21 629.55,447.21 634.09,447.21 638.63,447.21 643.17,447.21 647.71,447.21 652.25,447.21 656.79,447.21 661.34,447.21 665.88,447.21 670.42,447.21 674.96,447.21 679.50,447.21" fill="none" stroke="#44a872" stroke-width="1.1" stroke-linejoin="round"/>
<circle cx="502.40" cy="277.00" r="1.7" fill="#44a872"/>
<circle cx="506.94" cy="290.79" r="1.7" fill="#44a872"/>
<circle cx="511.48" cy="302.41" r="1.7" fill="#44a872"/>
<circle cx="516.02" cy="313.25" r="1.7" fill="#44a872"/>
<circle cx="520.56" cy="321.72" r="1.7" fill="#44a872"/>
<circle cx="525.11" cy="333.14" r="1.7" fill="#44a872"/>
<circle cx="529.65" cy="340.83" r="1.7" fill="#44a872"/>
<circle cx="534.19" cy="352.06" r="1.7" fill="#44a872"/>
<circle cx="538.73" cy="361.71" r="1.7" fill="#44a872"/>
<circle cx="543.27" cy="372.74" r="1.7" fill="#44a872"/>
<circle cx="547.81" cy="382.59" r="1.7" fill="#44a872"/>
<circle cx="552.35" cy="393.82" r="1.7" fill="#44a872"/>
<circle cx="556.89" cy="404.46" r="1.7" fill="#44a872"/>
<circle cx="561.43" cy="414.90" r="1.7" fill="#44a872"/>
<circle cx="565.97" cy="427.31" r="1.7" fill="#44a872"/>
<circle cx="570.51" cy="436.96" r="1.7" fill="#44a872"/>
<circle cx="575.06" cy="444.84" r="1.7" fill="#44a872"/>
<circle cx="579.60" cy="447.21" r="1.7" fill="#44a872"/>
<circle cx="584.14" cy="447.21" r="1.7" fill="#44a872"/>
<circle cx="588.68" cy="447.21" r="1.7" fill="#44a872"/>
<circle cx="593.22" cy="447.21" r="1.7" fill="#44a872"/>
<circle cx="597.76" cy="447.21" r="1.7" fill="#44a872"/>
<circle cx="602.30" cy="447.21" r="1.7" fill="#44a872"/>
<circle cx="606.84" cy="447.21" r="1.7" fill="#44a872"/>
<circle cx="611.38" cy="447.21" r="1.7" fill="#44a872"/>
<circle cx="615.92" cy="447.21" r="1.7" fill="#44a872"/>
<circle cx="620.47" cy="447.21" r="1.7" fill="#44a872"/>
<circle cx="625.01" cy="447.21" r="1.7" fill="#44a872"/>
<circle cx="629.55" cy="447.21" r="1.7" fill="#44a872"/>
<circle cx="634.09" cy="447.21" r="1.7" fill="#44a872"/>
<circle cx="638.63" cy="447.21" r="1.7" fill="#44a872"/>
<circle cx="643.17" cy="447.21" r="1.7" fill="#44a872"/>
<circle cx="647.71" cy="447.21" r="1.7" fill="#44a872"/>
<circle cx="652.25" cy="447.21" r="1.7" fill="#44a872"/>
<circle cx="656.79" cy="447.21" r="1.7" fill="#44a872"/>
<circle cx="661.34" cy="447.21" r="1.7" fill="#44a872"/>
<circle cx="665.88" cy="447.21" r="1.7" fill="#44a872"/>
<circle cx="670.42" cy="447.21" r="1.7" fill="#44a872"/>
<circle cx="674.96" cy="447.21" r="1.7" fill="#44a872"/>
<circle cx="679.50" cy="447.21" r="1.7" fill="#44a872"/>
<polyline points="502.40,277.00 506.94,286.85 511.48,294.93 516.02,303.20 520.56,314.23 525.11,322.31 529.65,333.14 534.19,341.81 538.73,356.39 543.27,365.45 547.81,376.09 552.35,384.17 556.89,394.22 561.43,401.70 565.97,411.55 570.51,419.82 575.06,429.67 579.60,437.56 584.14,443.66 588.68,445.44 593.22,445.44 597.76,445.44 602.30,445.44 606.84,445.44 611.38,445.44 615.92,445.44 620.47,445.44 625.01,445.44 629.55,445.44 634.09,445.44 638.63,445.44 643.17,445.44 647.71,445.44 652.25,445.44 656.79,445.44 661.34,445.44 665.88,445.44 670.42,445.44 674.96,445.44 679.50,445.44" fill="none" stroke="#25915a" stroke-width="1.1" stroke-linejoin="round"/>
<circle cx="502.40" cy="277.00" r="1.7" fill="#25915a"/>
<circle cx="506.94" cy="286.85" r="1.7" fill="#25915a"/>
<circle cx="511.48" cy="294.93" r="1.7" fill="#25915a"/>
<circle cx="516.02" cy="303.20" r="1.7" fill="#25915a"/>
<circle cx="520.56" cy="314.23" r="1.7" fill="#25915a"/>
<circle cx="525.11" cy="322.31" r="1.7" fill="#25915a"/>
<circle cx="529.65" cy="333.14" r="1.7" fill="#25915a"/>
<circle cx="534.19" cy="341.81" r="1.7" fill="#25915a"/>
<circle cx="538.73" cy="356.39" r="1.7" fill="#25915a"/>
<circle cx="543.27" cy="365.45" r="1.7" fill="#25915a"/>
<circle cx="547.81" cy="376.09" r="1.7" fill="#25915a"/>
<circle cx="552.35" cy="384.17" r="1.7" fill="#25915a"/>
<circle cx="556.89" cy="394.22" r="1.7" fill="#25915a"/>
<circle cx="561.43" cy="401.70" r="1.7" fill="#25915a"/>
<circle cx="565.97" cy="411.55" r="1.7" fill="#25915a"/>
<circle cx="570.51" cy="419.82" r="1.7" fill="#25915a"/>
<circle cx="575.06" cy="429.67" r="1.7" fill="#25915a"/>
<circle cx="579.60" cy="437.56" r="1.7" fill="#25915a"/>
<circle cx="584.14" cy="443.66" r="1.7" fill="#25915a"/>
<circle cx="588.68" cy="445.44" r="1.7" fill="#25915a"/>
<circle cx="593.22" cy="445.44" r="1.7" fill="#25915a"/>
<circle cx="597.76" cy="445.44" r="1.7" fill="#25915a"/>
<circle cx="602.30" cy="445.44" r="1.7" fill="#25915a"/>
<circle cx="606.84" cy="445.44" r="1.7" fill="#25915a"/>
<circle cx="611.38" cy="445.44" r="1.7" fill="#25915a"/>
<circle cx="615.92" cy="445.44" r="1.7" fill="#25915a"/>
<circle cx="620.47" cy="445.44" r="1.7" fill="#25915a"/>
<circle cx="625.01" cy="445.44" r="1.7" fill="#25915a"/>
<circle cx="629.55" cy="445.44" r="1.7" fill="#25915a"/>
<circle cx="634.09" cy="445.44" r="1.7" fill="#25915a"/>
<circle cx="638.63" cy="445.44" r="1.7" fill="#25915a"/>
<circle cx="643.17" cy="445.44" r="1.7" fill="#25915a"/>
<circle cx="647.71" cy="445.44" r="1.7" fill="#25915a"/>
<circle cx="652.25" cy="445.44" r="1.7" fill="#25915a"/>
<circle cx="656.79" cy="445.44" r="1.7" fill="#25915a"/>
<circle cx="661.34" cy="445.44" r="1.7" fill="#25915a"/>
<circle cx="665.88" cy="445.44" r="1.7" fill="#25915a"/>
<circle cx="670.42" cy="445.44" r="1.7" fill="#25915a"/>
<circle cx="674.96" cy="445.44" r="1.7" fill="#25915a"/>
<circle cx="679.50" cy="445.44" r="1.7" fill="#25915a"/>
<polyline points="502.40,277.00 506.94,284.88 511.48,292.37 516.02,299.26 520.56,304.97 525.11,312.26 529.65,321.13 534.19,330.39 538.73,343.39 543.27,355.80 547.81,365.06 552.35,372.74 556.89,377.27 561.43,383.38 565.97,387.71 570.51,394.02 575.06,399.34 579.60,407.02 584.14,414.51 588.68,423.57 593.22,434.40 597.76,442.09 602.30,443.86 606.84,443.86 611.38,443.86 615.92,443.86 620.47,443.86 625.01,443.86 629.55,443.86 634.09,443.86 638.63,443.86 643.17,443.86 647.71,443.86 652.25,443.86 656.79,443.86 661.34,443.86 665.88,443.86 670.42,443.86 674.96,443.86 679.50,443.86" fill="none" stroke="#137446" stroke-width="1.1" stroke-linejoin="round"/>
<circle cx="502.40" cy="277.00" r="1.7" fill="#137446"/>
<circle cx="506.94" cy="284.88" r="1.7" fill="#137446"/>
<circle cx="511.48" cy="292.37" r="1.7" fill="#137446"/>
<circle cx="516.02" cy="299.26" r="1.7" fill="#137446"/>
<circle cx="520.56" cy="304.97" r="1.7" fill="#137446"/>
<circle cx="525.11" cy="312.26" r="1.7" fill="#137446"/>
<circle cx="529.65" cy="321.13" r="1.7" fill="#137446"/>
<circle cx="534.19" cy="330.39" r="1.7" fill="#137446"/>
<circle cx="538.73" cy="343.39" r="1.7" fill="#137446"/>
<circle cx="543.27" cy="355.80" r="1.7" fill="#137446"/>
<circle cx="547.81" cy="365.06" r="1.7" fill="#137446"/>
<circle cx="552.35" cy="372.74" r="1.7" fill="#137446"/>
<circle cx="556.89" cy="377.27" r="1.7" fill="#137446"/>
<circle cx="561.43" cy="383.38" r="1.7" fill="#137446"/>
<circle cx="565.97" cy="387.71" r="1.7" fill="#137446"/>
<circle cx="570.51" cy="394.02" r="1.7" fill="#137446"/>
<circle cx="575.06" cy="399.34" r="1.7" fill="#137446"/>
<circle cx="579.60" cy="407.02" r="1.7" fill="#137446"/>
<circle cx="584.14" cy="414.51" r="1.7" fill="#137446"/>
<circle cx="588.68" cy="423.57" r="1.7" fill="#137446"/>
<circle cx="593.22" cy="434.40" r="1.7" fill="#137446"/>
<circle cx="597.76" cy="442.09" r="1.7" fill="#137446"/>
<circle cx="602.30" cy="443.86" r="1.7" fill="#137446"/>
<circle cx="606.84" cy="443.86" r="1.7" fill="#137446"/>
<circle cx="611.38" cy="443.86" r="1.7" fill="#137446"/>
<circle cx="615.92" cy="443.86" r="1.7" fill="#137446"/>
<circle cx="620.47" cy="443.86" r="1.7" fill="#137446"/>
<circle cx="625.01" cy="443.86" r="1.7" fill="#137446"/>
<circle cx="629.55" cy="443.86" r="1.7" fill="#137446"/>
<circle cx="634.09" cy="443.86" r="1.7" fill="#137446"/>
<circle cx="638.63" cy="443.86" r="1.7" fill="#137446"/>
<circle cx="643.17" cy="443.86" r="1.7" fill="#137446"/>
<circle cx="647.71" cy="443.86" r="1.7" fill="#137446"/>
<circle cx="652.25" cy="443.86" r="1.7" fill="#137446"/>
<circle cx="656.79" cy="443.86" r="1.7" fill="#137446"/>
<circle cx="661.34" cy="443.86" r="1.7" fill="#137446"/>
<circle cx="665.88" cy="443.86" r="1.7" fill="#137446"/>
<circle cx="670.42" cy="443.86" r="1.7" fill="#137446"/>
<circle cx="674.96" cy="443.86" r="1.7" fill="#137446"/>
<circle cx="679.50" cy="443.86" r="1.7" fill="#137446"/>
<polyline points="502.40,277.00 506.94,281.14 511.48,290.79 516.02,292.96 520.56,300.64 525.11,302.22 529.65,310.29 534.19,318.76 538.73,322.70 543.27,331.18 547.81,335.12 552.35,340.63 556.89,344.57 561.43,351.86 565.97,356.39 570.51,365.65 575.06,370.57 579.60,382.20 584.14,388.50 588.68,397.96 593.22,402.49 597.76,408.20 602.30,412.34 606.84,417.26 611.38,420.61 615.92,425.14 620.47,427.90 625.01,432.43 629.55,434.60 634.09,436.96 638.63,438.15 643.17,438.93 647.71,438.93 652.25,438.93 656.79,438.93 661.34,438.93 665.88,438.93 670.42,438.93 674.96,438.93 679.50,438.93" fill="none" stroke="#065a33" stroke-width="1.1" stroke-linejoin="round"/>
<circle cx="502.40" cy="277.00" r="1.7" fill="#065a33"/>
<circle cx="506.94" cy="281.14" r="1.7" fill="#065a33"/>
<circle cx="511.48" cy="290.79" r="1.7" fill="#065a33"/>
<circle cx="516.02" cy="292.96" r="1.7" fill="#065a33"/>
<circle cx="520.56" cy="300.64" r="1.7" fill="#065a33"/>
<circle cx="525.11" cy="302.22" r="1.7" fill="#065a33"/>
<circle cx="529.65" cy="310.29" r="1.7" fill="#065a33"/>
<circle cx="534.19" cy="318.76" r="1.7" fill="#065a33"/>
<circle cx="538.73" cy="322.70" r="1.7" fill="#065a33"/>
<circle cx="543.27" cy="331.18" r="1.7" fill="#065a33"/>
<circle cx="547.81" cy="335.12" r="1.7" fill="#065a33"/>
<circle cx="552.35" cy="340.63" r="1.7" fill="#065a33"/>
<circle cx="556.89" cy="344.57" r="1.7" fill="#065a33"/>
<circle cx="561.43" cy="351.86" r="1.7" fill="#065a33"/>
<circle cx="565.97" cy="356.39" r="1.7" fill="#065a33"/>
<circle cx="570.51" cy="365.65" r="1.7" fill="#065a33"/>
<circle cx="575.06" cy="370.57" r="1.7" fill="#065a33"/>
<circle cx="579.60" cy="382.20" r="1.7" fill="#065a33"/>
<circle cx="584.14" cy="388.50" r="1.7" fill="#065a33"/>
<circle cx="588.68" cy="397.96" r="1.7" fill="#065a33"/>
<circle cx="593.22" cy="402.49" r="1.7" fill="#065a33"/>
<circle cx="597.76" cy="408.20" r="1.7" fill="#065a33"/>
<circle cx="602.30" cy="412.34" r="1.7" fill="#065a33"/>
<circle cx="606.84" cy="417.26" r="1.7" fill="#065a33"/>
<circle cx="611.38" cy="420.61" r="1.7" fill="#065a33"/>
<circle cx="615.92" cy="425.14" r="1.7" fill="#065a33"/>
<circle cx="620.47" cy="427.90" r="1.7" fill="#065a33"/>
<circle cx="625.01" cy="432.43" r="1.7" fill="#065a33"/>
<circle cx="629.55" cy="434.60" r="1.7" fill="#065a33"/>
<circle cx="634.09" cy="436.96" r="1.7" fill="#065a33"/>
<circle cx="638.63" cy="438.15" r="1.7" fill="#065a33"/>
<circle cx="643.17" cy="438.93" r="1.7" fill="#065a33"/>
<circle cx="647.71" cy="438.93" r="1.7" fill="#065a33"/>
<circle cx="652.25" cy="438.93" r="1.7" fill="#065a33"/>
<circle cx="656.79" cy="438.93" r="1.7" fill="#065a33"/>
<circle cx="661.34" cy="438.93" r="1.7" fill="#065a33"/>
<circle cx="665.88" cy="438.93" r="1.7" fill="#065a33"/>
<circle cx="670.42" cy="438.93" r="1.7" fill="#065a33"/>
<circle cx="674.96" cy="438.93" r="1.7" fill="#065a33"/>
<circle cx="679.50" cy="438.93" r="1.7" fill="#065a33"/>
</g>
<rect x="617.1" y="294.1" width="57.7" height="64.2" fill="#fff" stroke="#666" stroke-width="0.9"/>
<line x1="618.1" y1="299.90" x2="629.6" y2="299.90" stroke="#86c79a" stroke-width="1.1"/>
<circle cx="623.85" cy="299.90" r="2.0" fill="#86c79a"/>
<text x="630.6" y="303.00" font-size="8.6" fill="#111" textLength="37.3" lengthAdjust="spacing">&#954;(A) = 10</text>
<line x1="618.1" y1="310.34" x2="629.6" y2="310.34" stroke="#66b986" stroke-width="1.1"/>
<circle cx="623.85" cy="310.34" r="2.0" fill="#66b986"/>
<text x="630.6" y="313.44" font-size="8.6" fill="#111" textLength="37.3" lengthAdjust="spacing">&#954;(A) = 20</text>
<line x1="618.1" y1="320.78" x2="629.6" y2="320.78" stroke="#44a872" stroke-width="1.1"/>
<circle cx="623.85" cy="320.78" r="2.0" fill="#44a872"/>
<text x="630.6" y="323.88" font-size="8.6" fill="#111" textLength="37.3" lengthAdjust="spacing">&#954;(A) = 40</text>
<line x1="618.1" y1="331.22" x2="629.6" y2="331.22" stroke="#25915a" stroke-width="1.1"/>
<circle cx="623.85" cy="331.22" r="2.0" fill="#25915a"/>
<text x="630.6" y="334.32" font-size="8.6" fill="#111" textLength="37.3" lengthAdjust="spacing">&#954;(A) = 60</text>
<line x1="618.1" y1="341.66" x2="629.6" y2="341.66" stroke="#137446" stroke-width="1.1"/>
<circle cx="623.85" cy="341.66" r="2.0" fill="#137446"/>
<text x="630.6" y="344.76" font-size="8.6" fill="#111" textLength="37.3" lengthAdjust="spacing">&#954;(A) = 80</text>
<line x1="618.1" y1="352.10" x2="629.6" y2="352.10" stroke="#065a33" stroke-width="1.1"/>
<circle cx="623.85" cy="352.10" r="2.0" fill="#065a33"/>
<text x="630.6" y="355.20" font-size="8.6" fill="#111" textLength="42.1" lengthAdjust="spacing">&#954;(A) = 100</text>
<rect x="60.3" y="496" width="564.5" height="247.1" rx="8" ry="8" fill="#cea5a7"/>
<text x="77.5" y="517.4" font-size="24" fill="#000" font-weight="bold" text-anchor="start" >e</text>
<text x="318.8" y="518.5" font-size="24" fill="#000" font-weight="bold" text-anchor="start" >f</text>
<rect x="97" y="510.6" width="148.8" height="148.1" fill="#6a9dbb"/>
<rect x="250" y="510.6" width="16.3" height="148.1" fill="#dfc878"/>
<rect x="274" y="510.6" width="23" height="148.1" fill="#e3e3e3"/>
<rect x="97" y="663" width="148.8" height="16.7" fill="#b87a7a"/>
<rect x="97" y="685" width="148.8" height="23" fill="#e3e3e3"/>
<text x="171.8" y="560.6" font-size="16.25" fill="#fff" font-weight="normal" text-anchor="middle" >In-memory</text>
<text x="171.5" y="580.9" font-size="16" fill="#fff" font-weight="normal" text-anchor="middle" >MVM</text>
<text x="171.5" y="621.8" font-size="16" fill="#fff" font-weight="bold" text-anchor="middle" >Ab = c</text>
<text x="258.1" y="588.6" font-size="13.8" fill="#111" font-weight="bold" text-anchor="middle" >c</text>
<text x="171.3" y="675.8" font-size="13.8" fill="#111" font-weight="bold" text-anchor="middle" >b</text>
<text x="171.5" y="700.7" font-size="11.3" fill="#111" font-weight="normal" text-anchor="middle" >Iteration update logic</text>
<text x="0" y="0" font-size="11.3" fill="#111" text-anchor="middle" transform="translate(290.3,584.2) rotate(-90)">A/D conversion</text>
<polyline points="285.7,658.7 285.7,696.6 250,696.6" fill="none" stroke="#111" stroke-width="1.3"/>
<polygon points="246.2,696.6 251.5,693.8 251.5,699.4" fill="#111"/>
<text x="342.5" y="734.3" font-size="15.6" fill="#111" font-weight="normal" text-anchor="middle" >Low-precision AIMC solvers</text>
<rect x="340" y="510.8" width="16" height="147.9" fill="#b87a7a"/>
<rect x="362.4" y="510.8" width="148.8" height="147.9" fill="#6a9dbb"/>
<rect x="598.4" y="510.3" width="16.8" height="148.4" fill="#dfc878"/>
<text x="348.2" y="588.5" font-size="13.8" fill="#111" font-weight="bold" text-anchor="middle" >r</text>
<text x="606.6" y="588.1" font-size="13.6" fill="#111" font-weight="bold" text-anchor="middle" >x</text>
<text x="436.8" y="561" font-size="16.25" fill="#fff" font-weight="normal" text-anchor="middle" >In-memory</text>
<text x="436.8" y="580.7" font-size="16" fill="#fff" font-weight="normal" text-anchor="middle" >IMVM</text>
<text x="436.8" y="621" font-size="16" font-weight="bold" fill="#fff" text-anchor="middle">x = A<tspan font-size="11" font-weight="normal" dy="-6.6" dx="0.6">-1</tspan><tspan dy="6.6" dx="0.3">r</tspan></text>
<line x1="511" y1="519.90" x2="520.6" y2="519.90" stroke="#3a2a2a" stroke-width="1.3"/>
<line x1="515.6" y1="534.30" x2="520.6" y2="534.30" stroke="#222" stroke-width="1.2"/>
<line x1="515.6" y1="529.30" x2="515.6" y2="539.90" stroke="#222" stroke-width="1.2"/>
<line x1="513.7" y1="531.30" x2="513.7" y2="538.10" stroke="#222" stroke-width="1.1"/>
<line x1="512.1" y1="532.70" x2="512.1" y2="536.70" stroke="#333" stroke-width="0.9"/>
<polygon points="520.6,511.30 520.6,542.60 553.3,526.95" fill="#fff" stroke="#111" stroke-width="1.2" stroke-linejoin="miter"/>
<line x1="523.4" y1="519.90" x2="529.8" y2="519.90" stroke="#555" stroke-width="1.2"/>
<line x1="523.4" y1="531.60" x2="529.8" y2="531.60" stroke="#111" stroke-width="1"/>
<line x1="526.6" y1="528.40" x2="526.6" y2="534.80" stroke="#111" stroke-width="1"/>
<line x1="553.3" y1="526.95" x2="598.4" y2="526.95" stroke="#2a1e1e" stroke-width="1.3"/>
<polyline points="587.4,526.95 587.4,685.6 378.7,685.6 378.7,658.7" fill="none" stroke="#111" stroke-width="1.2"/>
<circle cx="587.4" cy="526.95" r="1.9" fill="#000"/>
<line x1="511" y1="558.45" x2="520.6" y2="558.45" stroke="#3a2a2a" stroke-width="1.3"/>
<line x1="515.6" y1="572.85" x2="520.6" y2="572.85" stroke="#222" stroke-width="1.2"/>
<line x1="515.6" y1="567.85" x2="515.6" y2="578.45" stroke="#222" stroke-width="1.2"/>
<line x1="513.7" y1="569.85" x2="513.7" y2="576.65" stroke="#222" stroke-width="1.1"/>
<line x1="512.1" y1="571.25" x2="512.1" y2="575.25" stroke="#333" stroke-width="0.9"/>
<polygon points="520.6,549.85 520.6,581.15 553.3,565.50" fill="#fff" stroke="#111" stroke-width="1.2" stroke-linejoin="miter"/>
<line x1="523.4" y1="558.45" x2="529.8" y2="558.45" stroke="#555" stroke-width="1.2"/>
<line x1="523.4" y1="570.15" x2="529.8" y2="570.15" stroke="#111" stroke-width="1"/>
<line x1="526.6" y1="566.95" x2="526.6" y2="573.35" stroke="#111" stroke-width="1"/>
<line x1="553.3" y1="565.50" x2="598.4" y2="565.50" stroke="#2a1e1e" stroke-width="1.3"/>
<polyline points="579.2,565.50 579.2,677.5 417.2,677.5 417.2,658.7" fill="none" stroke="#111" stroke-width="1.2"/>
<circle cx="579.2" cy="565.50" r="1.9" fill="#000"/>
<line x1="511" y1="597.00" x2="520.6" y2="597.00" stroke="#3a2a2a" stroke-width="1.3"/>
<line x1="515.6" y1="611.40" x2="520.6" y2="611.40" stroke="#222" stroke-width="1.2"/>
<line x1="515.6" y1="606.40" x2="515.6" y2="617.00" stroke="#222" stroke-width="1.2"/>
<line x1="513.7" y1="608.40" x2="513.7" y2="615.20" stroke="#222" stroke-width="1.1"/>
<line x1="512.1" y1="609.80" x2="512.1" y2="613.80" stroke="#333" stroke-width="0.9"/>
<polygon points="520.6,588.40 520.6,619.70 553.3,604.05" fill="#fff" stroke="#111" stroke-width="1.2" stroke-linejoin="miter"/>
<line x1="523.4" y1="597.00" x2="529.8" y2="597.00" stroke="#555" stroke-width="1.2"/>
<line x1="523.4" y1="608.70" x2="529.8" y2="608.70" stroke="#111" stroke-width="1"/>
<line x1="526.6" y1="605.50" x2="526.6" y2="611.90" stroke="#111" stroke-width="1"/>
<line x1="553.3" y1="604.05" x2="598.4" y2="604.05" stroke="#2a1e1e" stroke-width="1.3"/>
<polyline points="571.1,604.05 571.1,669.6 455.8,669.6 455.8,658.7" fill="none" stroke="#111" stroke-width="1.2"/>
<circle cx="571.1" cy="604.05" r="1.9" fill="#000"/>
<line x1="511" y1="635.55" x2="520.6" y2="635.55" stroke="#3a2a2a" stroke-width="1.3"/>
<line x1="515.6" y1="649.95" x2="520.6" y2="649.95" stroke="#222" stroke-width="1.2"/>
<line x1="515.6" y1="644.95" x2="515.6" y2="655.55" stroke="#222" stroke-width="1.2"/>
<line x1="513.7" y1="646.95" x2="513.7" y2="653.75" stroke="#222" stroke-width="1.1"/>
<line x1="512.1" y1="648.35" x2="512.1" y2="652.35" stroke="#333" stroke-width="0.9"/>
<polygon points="520.6,626.95 520.6,658.25 553.3,642.60" fill="#fff" stroke="#111" stroke-width="1.2" stroke-linejoin="miter"/>
<line x1="523.4" y1="635.55" x2="529.8" y2="635.55" stroke="#555" stroke-width="1.2"/>
<line x1="523.4" y1="647.25" x2="529.8" y2="647.25" stroke="#111" stroke-width="1"/>
<line x1="526.6" y1="644.05" x2="526.6" y2="650.45" stroke="#111" stroke-width="1"/>
<line x1="553.3" y1="642.60" x2="598.4" y2="642.60" stroke="#2a1e1e" stroke-width="1.3"/>
<polyline points="563.4,642.60 563.4,661.5 494.3,661.5 494.3,658.7" fill="none" stroke="#111" stroke-width="1.2"/>
<circle cx="563.4" cy="642.60" r="1.9" fill="#000"/>
</svg>
</body></html>
